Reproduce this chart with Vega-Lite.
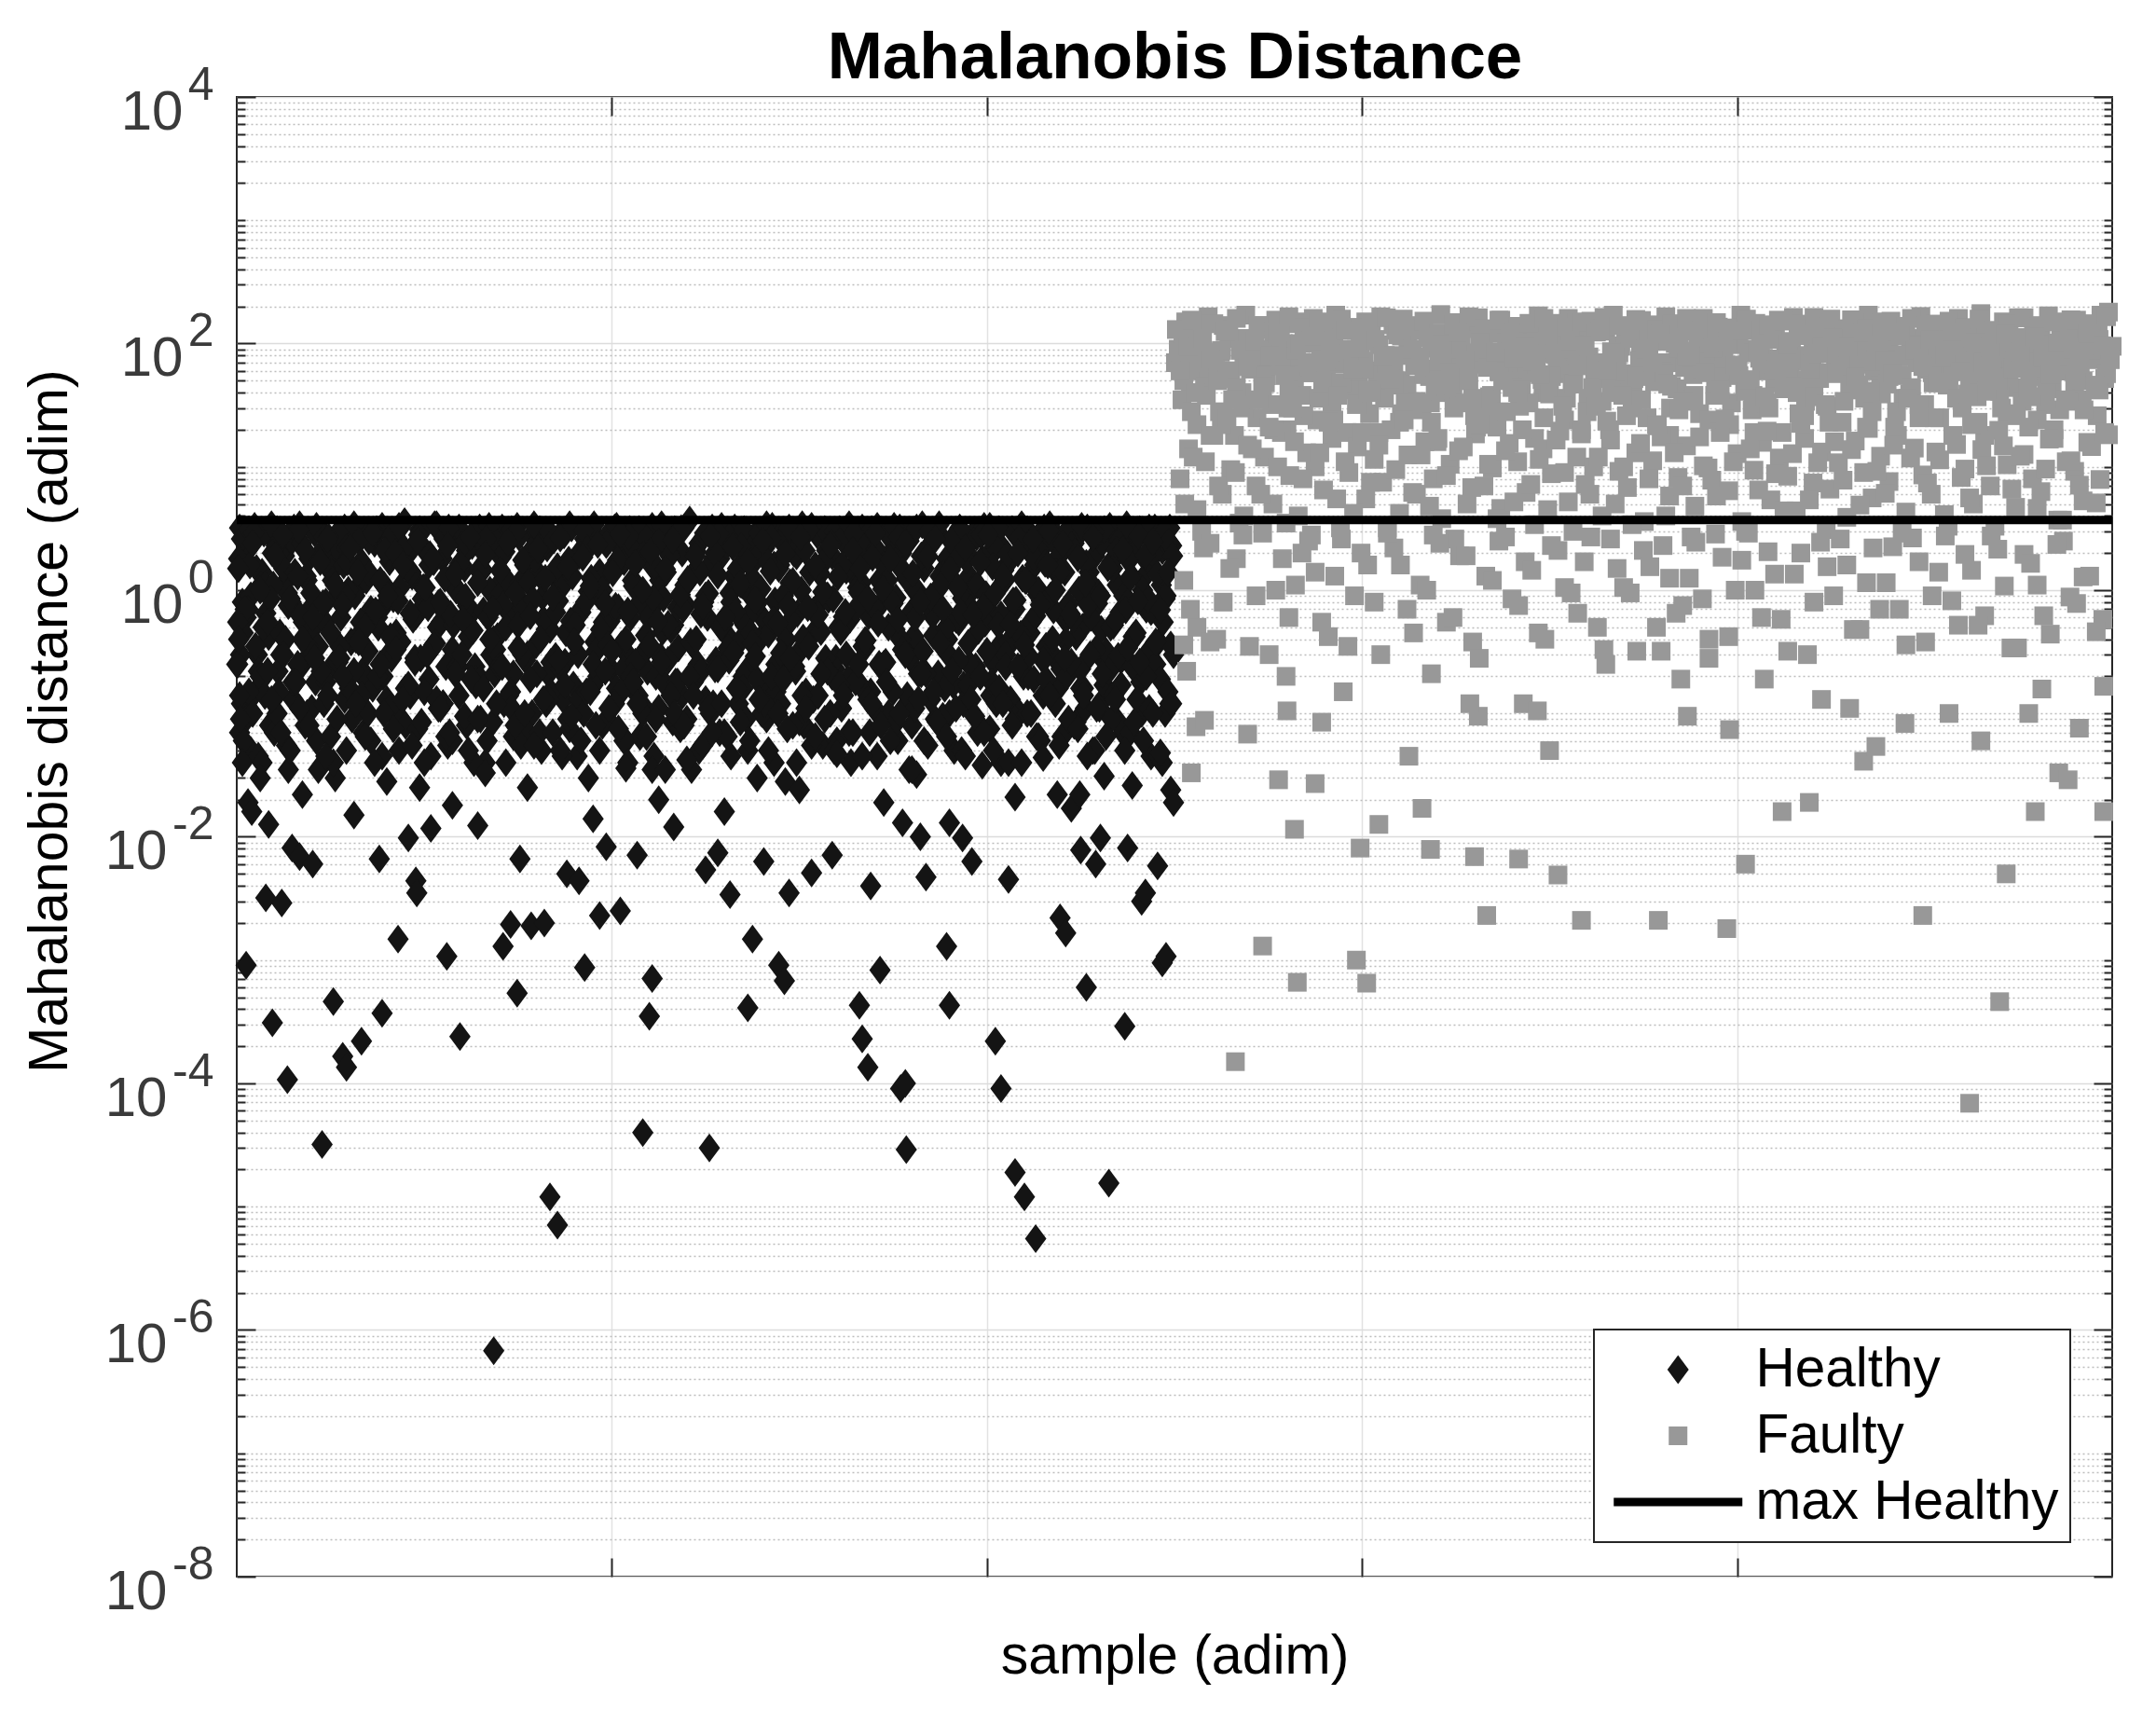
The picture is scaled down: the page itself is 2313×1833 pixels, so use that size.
{
"$schema": "https://vega.github.io/schema/vega-lite/v6.json",
"width": 2012,
"height": 1587,
"autosize": {"type": "none"},
"padding": {"left": 254, "top": 104, "right": 47, "bottom": 142},
"background": "white",
"config": {
  "font": "Liberation Sans",
  "view": {"stroke": "#262626", "strokeWidth": 2},
  "axis": {"labelFont": "Liberation Sans", "titleFont": "Liberation Sans"},
  "legend": {"strokeWidth": 2}
},
"datasets": {
"h": [
{"s":3,"d":3.2},{"s":11,"d":2.1},{"s":19,"d":3.3},{"s":27,"d":1.4},{"s":35,"d":2.8},{"s":43,"d":3.1},{"s":51,"d":1.9},{"s":59,"d":2.5},{"s":67,"d":3.4},{"s":75,"d":1.2},
{"s":83,"d":2.9},{"s":91,"d":3.0},{"s":99,"d":1.6},{"s":107,"d":2.2},{"s":115,"d":3.2},{"s":123,"d":2.7},{"s":131,"d":1.1},{"s":139,"d":3.0},{"s":147,"d":2.4},{"s":155,"d":3.3},
{"s":163,"d":1.7},{"s":171,"d":2.6},{"s":179,"d":3.6},{"s":187,"d":1.3},{"s":195,"d":3.1},{"s":203,"d":2.0},{"s":211,"d":3.4},{"s":219,"d":1.8},{"s":227,"d":2.7},{"s":235,"d":3.0},
{"s":243,"d":1.5},{"s":251,"d":2.3},{"s":259,"d":3.2},{"s":267,"d":2.9},{"s":275,"d":1.0},{"s":283,"d":3.2},{"s":291,"d":2.5},{"s":299,"d":3.3},{"s":307,"d":1.6},{"s":315,"d":2.8},
{"s":323,"d":3.1},{"s":331,"d":2.2},{"s":339,"d":1.3},{"s":347,"d":3.0},{"s":355,"d":3.4},{"s":363,"d":1.9},{"s":371,"d":2.6},{"s":379,"d":3.0},{"s":387,"d":1.4},{"s":395,"d":2.4},
{"s":403,"d":3.2},{"s":411,"d":2.1},{"s":419,"d":3.1},{"s":427,"d":1.7},{"s":435,"d":2.8},{"s":443,"d":3.3},{"s":451,"d":1.2},{"s":459,"d":2.7},{"s":467,"d":3.1},{"s":475,"d":2.0},
{"s":483,"d":3.7},{"s":491,"d":1.5},{"s":499,"d":2.9},{"s":507,"d":3.2},{"s":515,"d":1.8},{"s":523,"d":2.3},{"s":531,"d":3.2},{"s":539,"d":1.1},{"s":547,"d":2.6},{"s":555,"d":3.0},
{"s":563,"d":2.2},{"s":571,"d":3.3},{"s":579,"d":1.6},{"s":587,"d":3.0},{"s":595,"d":2.5},{"s":603,"d":3.4},{"s":611,"d":1.4},{"s":619,"d":2.8},{"s":627,"d":3.1},{"s":635,"d":1.9},
{"s":643,"d":3.1},{"s":651,"d":2.4},{"s":659,"d":1.3},{"s":667,"d":3.2},{"s":675,"d":2.7},{"s":683,"d":3.3},{"s":691,"d":1.7},{"s":699,"d":2.1},{"s":707,"d":3.2},{"s":715,"d":2.9},
{"s":723,"d":1.0},{"s":731,"d":3.4},{"s":739,"d":2.3},{"s":747,"d":3.0},{"s":755,"d":1.5},{"s":763,"d":2.6},{"s":771,"d":3.2},{"s":779,"d":2.0},{"s":787,"d":3.0},{"s":795,"d":1.8},
{"s":803,"d":3.3},{"s":811,"d":2.5},{"s":819,"d":1.2},{"s":827,"d":3.1},{"s":835,"d":2.8},{"s":843,"d":3.1},{"s":851,"d":1.6},{"s":859,"d":2.2},{"s":867,"d":3.4},{"s":875,"d":2.7},
{"s":883,"d":1.4},{"s":891,"d":3.0},{"s":899,"d":2.9},{"s":907,"d":3.2},{"s":915,"d":1.9},{"s":923,"d":2.4},{"s":931,"d":3.3},{"s":939,"d":1.1},{"s":947,"d":3.0},{"s":955,"d":2.6},
{"s":963,"d":3.1},{"s":971,"d":1.7},{"s":979,"d":3.2},{"s":987,"d":2.1},{"s":995,"d":3.2},
{"s":5,"d":2.6},{"s":13,"d":3.1},{"s":21,"d":1.5},{"s":29,"d":2.9},{"s":37,"d":3.4},{"s":45,"d":2.0},{"s":53,"d":1.2},{"s":61,"d":3.2},{"s":69,"d":2.4},{"s":77,"d":1.8},
{"s":85,"d":3.3},{"s":93,"d":2.7},{"s":101,"d":1.4},{"s":109,"d":3.0},{"s":117,"d":2.2},{"s":125,"d":3.4},{"s":133,"d":1.7},{"s":141,"d":2.5},{"s":149,"d":3.1},{"s":157,"d":1.1},
{"s":165,"d":2.8},{"s":173,"d":3.3},{"s":181,"d":1.9},{"s":189,"d":2.3},{"s":197,"d":3.0},{"s":205,"d":1.6},{"s":213,"d":3.4},{"s":221,"d":2.6},{"s":229,"d":1.3},{"s":237,"d":3.2},
{"s":245,"d":2.1},{"s":253,"d":2.9},{"s":261,"d":1.5},{"s":269,"d":3.3},{"s":277,"d":2.4},{"s":285,"d":1.0},{"s":293,"d":3.1},{"s":301,"d":2.7},{"s":309,"d":1.8},{"s":317,"d":3.4},
{"s":325,"d":2.2},{"s":333,"d":3.0},{"s":341,"d":1.4},{"s":349,"d":2.8},{"s":357,"d":3.2},{"s":365,"d":1.9},{"s":373,"d":2.5},{"s":381,"d":3.4},{"s":389,"d":1.2},{"s":397,"d":2.9},
{"s":405,"d":3.3},{"s":413,"d":1.7},{"s":421,"d":2.3},{"s":429,"d":3.1},{"s":437,"d":2.6},{"s":445,"d":1.5},{"s":453,"d":3.4},{"s":461,"d":2.0},{"s":469,"d":2.8},{"s":477,"d":3.2},
{"s":485,"d":1.3},{"s":493,"d":2.4},{"s":501,"d":3.0},{"s":509,"d":1.8},{"s":517,"d":3.3},{"s":525,"d":2.7},{"s":533,"d":1.1},{"s":541,"d":3.1},{"s":549,"d":2.2},{"s":557,"d":2.9},
{"s":565,"d":3.4},{"s":573,"d":1.6},{"s":581,"d":2.5},{"s":589,"d":3.2},{"s":597,"d":1.9},{"s":605,"d":2.8},{"s":613,"d":3.3},{"s":621,"d":1.4},{"s":629,"d":2.1},{"s":637,"d":3.0},
{"s":645,"d":2.6},{"s":653,"d":3.4},{"s":661,"d":1.7},{"s":669,"d":2.3},{"s":677,"d":3.1},{"s":685,"d":1.2},{"s":693,"d":2.9},{"s":701,"d":3.3},{"s":709,"d":2.0},{"s":717,"d":2.5},
{"s":725,"d":3.2},{"s":733,"d":1.5},{"s":741,"d":2.8},{"s":749,"d":3.4},{"s":757,"d":1.8},{"s":765,"d":2.4},{"s":773,"d":3.0},{"s":781,"d":1.3},{"s":789,"d":2.7},{"s":797,"d":3.3},
{"s":805,"d":2.1},{"s":813,"d":3.1},{"s":821,"d":1.6},{"s":829,"d":2.9},{"s":837,"d":3.4},{"s":845,"d":2.2},{"s":853,"d":1.0},{"s":861,"d":3.2},{"s":869,"d":2.6},{"s":877,"d":1.9},
{"s":885,"d":3.0},{"s":893,"d":2.4},{"s":901,"d":3.3},{"s":909,"d":1.4},{"s":917,"d":2.8},{"s":925,"d":3.1},{"s":933,"d":1.7},{"s":941,"d":2.5},{"s":949,"d":3.4},{"s":957,"d":2.0},
{"s":965,"d":1.2},{"s":973,"d":3.2},{"s":981,"d":2.7},{"s":989,"d":3.0},{"s":997,"d":2.3},
{"s":2,"d":1.8},{"s":10,"d":0.6},{"s":18,"d":2.9},{"s":26,"d":1.1},{"s":34,"d":0.42},{"s":42,"d":2.3},{"s":50,"d":1.5},{"s":58,"d":0.8},{"s":66,"d":3.1},{"s":74,"d":1.3},
{"s":82,"d":0.5},{"s":90,"d":2.0},{"s":98,"d":2.7},{"s":106,"d":0.9},{"s":114,"d":1.6},{"s":122,"d":0.38},{"s":130,"d":2.5},{"s":138,"d":1.2},{"s":146,"d":3.0},{"s":154,"d":0.7},
{"s":162,"d":1.9},{"s":170,"d":0.45},{"s":178,"d":2.2},{"s":186,"d":1.4},{"s":194,"d":2.8},{"s":202,"d":0.85},{"s":210,"d":1.7},{"s":218,"d":0.55},{"s":226,"d":3.2},{"s":234,"d":1.0},
{"s":242,"d":2.4},{"s":250,"d":0.65},{"s":258,"d":1.45},{"s":266,"d":2.6},{"s":274,"d":0.4},{"s":282,"d":1.85},{"s":290,"d":1.15},{"s":298,"d":2.95},{"s":306,"d":0.75},{"s":314,"d":2.1},
{"s":322,"d":1.35},{"s":330,"d":0.48},{"s":338,"d":2.55},{"s":346,"d":1.05},{"s":354,"d":1.75},{"s":362,"d":0.6},{"s":370,"d":3.05},{"s":378,"d":1.25},{"s":386,"d":0.9},{"s":394,"d":2.35},
{"s":402,"d":1.55},{"s":410,"d":0.36},{"s":418,"d":2.75},{"s":426,"d":1.1},{"s":434,"d":1.95},{"s":442,"d":0.7},{"s":450,"d":2.45},{"s":458,"d":1.4},{"s":466,"d":0.52},{"s":474,"d":3.15},
{"s":482,"d":1.2},{"s":490,"d":2.05},{"s":498,"d":0.8},{"s":506,"d":1.65},{"s":514,"d":2.85},{"s":522,"d":0.44},{"s":530,"d":1.3},{"s":538,"d":2.25},{"s":546,"d":0.95},{"s":554,"d":1.8},
{"s":562,"d":0.58},{"s":570,"d":2.65},{"s":578,"d":1.5},{"s":586,"d":0.4},{"s":594,"d":2.0},{"s":602,"d":1.0},{"s":610,"d":3.1},{"s":618,"d":0.72},{"s":626,"d":1.7},{"s":634,"d":2.4},
{"s":642,"d":0.5},{"s":650,"d":1.45},{"s":658,"d":2.9},{"s":666,"d":1.15},{"s":674,"d":0.62},{"s":682,"d":2.15},{"s":690,"d":1.6},{"s":698,"d":0.88},{"s":706,"d":2.7},{"s":714,"d":1.25},
{"s":722,"d":0.42},{"s":730,"d":1.9},{"s":738,"d":3.0},{"s":746,"d":0.78},{"s":754,"d":1.35},{"s":762,"d":2.5},{"s":770,"d":0.55},{"s":778,"d":1.75},{"s":786,"d":1.05},{"s":794,"d":2.8},
{"s":802,"d":0.68},{"s":810,"d":2.2},{"s":818,"d":1.45},{"s":826,"d":0.38},{"s":834,"d":2.6},{"s":842,"d":1.2},{"s":850,"d":1.85},{"s":858,"d":0.82},{"s":866,"d":3.05},{"s":874,"d":1.4},
{"s":882,"d":0.6},{"s":890,"d":2.3},{"s":898,"d":1.0},{"s":906,"d":1.65},{"s":914,"d":2.95},{"s":922,"d":0.48},{"s":930,"d":1.55},{"s":938,"d":2.1},{"s":946,"d":0.9},{"s":954,"d":1.3},
{"s":962,"d":2.75},{"s":970,"d":0.7},{"s":978,"d":1.95},{"s":986,"d":1.1},{"s":994,"d":2.45},
{"s":6,"d":0.8},{"s":14,"d":1.6},{"s":22,"d":0.3},{"s":30,"d":1.1},{"s":38,"d":2.0},{"s":46,"d":0.45},{"s":54,"d":0.95},{"s":62,"d":1.4},{"s":70,"d":0.25},{"s":78,"d":0.7},
{"s":86,"d":1.85},{"s":94,"d":0.55},{"s":102,"d":1.2},{"s":110,"d":0.35},{"s":118,"d":1.7},{"s":126,"d":0.9},{"s":134,"d":0.22},{"s":142,"d":1.35},{"s":150,"d":0.6},{"s":158,"d":2.1},
{"s":166,"d":0.4},{"s":174,"d":1.05},{"s":182,"d":1.5},{"s":190,"d":0.28},{"s":198,"d":0.85},{"s":206,"d":1.95},{"s":214,"d":0.5},{"s":222,"d":1.25},{"s":230,"d":0.33},{"s":238,"d":1.65},
{"s":246,"d":0.75},{"s":254,"d":0.24},{"s":262,"d":1.45},{"s":270,"d":1.0},{"s":278,"d":0.42},{"s":286,"d":2.05},{"s":294,"d":0.62},{"s":302,"d":1.15},{"s":310,"d":0.3},{"s":318,"d":1.8},
{"s":326,"d":0.88},{"s":334,"d":0.48},{"s":342,"d":1.55},{"s":350,"d":0.26},{"s":358,"d":1.3},{"s":366,"d":0.68},{"s":374,"d":2.15},{"s":382,"d":0.38},{"s":390,"d":1.0},{"s":398,"d":0.56},
{"s":406,"d":1.75},{"s":414,"d":0.32},{"s":422,"d":1.2},{"s":430,"d":0.8},{"s":438,"d":0.22},{"s":446,"d":1.6},{"s":454,"d":0.46},{"s":462,"d":1.9},{"s":470,"d":0.72},{"s":478,"d":1.1},
{"s":486,"d":0.36},{"s":494,"d":1.4},{"s":502,"d":0.6},{"s":510,"d":2.0},{"s":518,"d":0.27},{"s":526,"d":0.95},{"s":534,"d":1.5},{"s":542,"d":0.52},{"s":550,"d":1.25},{"s":558,"d":0.4},
{"s":566,"d":1.7},{"s":574,"d":0.82},{"s":582,"d":0.3},{"s":590,"d":1.15},{"s":598,"d":0.65},{"s":606,"d":2.1},{"s":614,"d":0.44},{"s":622,"d":1.35},{"s":630,"d":0.9},{"s":638,"d":0.23},
{"s":646,"d":1.6},{"s":654,"d":0.58},{"s":662,"d":1.05},{"s":670,"d":0.34},{"s":678,"d":1.85},{"s":686,"d":0.76},{"s":694,"d":1.2},{"s":702,"d":0.48},{"s":710,"d":1.45},{"s":718,"d":0.28},
{"s":726,"d":0.98},{"s":734,"d":2.0},{"s":742,"d":0.62},{"s":750,"d":1.3},{"s":758,"d":0.4},{"s":766,"d":1.7},{"s":774,"d":0.86},{"s":782,"d":0.25},{"s":790,"d":1.1},{"s":798,"d":0.54},
{"s":806,"d":1.55},{"s":814,"d":0.36},{"s":822,"d":1.95},{"s":830,"d":0.7},{"s":838,"d":1.25},{"s":846,"d":0.45},{"s":854,"d":0.92},{"s":862,"d":1.65},{"s":870,"d":0.3},{"s":878,"d":1.4},
{"s":886,"d":0.6},{"s":894,"d":2.05},{"s":902,"d":0.5},{"s":910,"d":1.15},{"s":918,"d":0.78},{"s":926,"d":0.26},{"s":934,"d":1.5},{"s":942,"d":0.66},{"s":950,"d":1.8},{"s":958,"d":0.42},
{"s":966,"d":1.0},{"s":974,"d":0.33},{"s":982,"d":1.35},{"s":990,"d":0.85},{"s":998,"d":1.9},
{"s":7,"d":0.45},{"s":15,"d":0.9},{"s":23,"d":0.22},{"s":31,"d":0.65},{"s":39,"d":1.1},{"s":47,"d":0.3},{"s":55,"d":0.75},{"s":63,"d":0.18},{"s":71,"d":0.55},{"s":79,"d":0.95},
{"s":87,"d":0.35},{"s":95,"d":0.8},{"s":103,"d":0.25},{"s":111,"d":0.6},{"s":119,"d":1.0},{"s":127,"d":0.4},{"s":135,"d":0.2},{"s":143,"d":0.7},{"s":151,"d":0.5},{"s":159,"d":0.28},
{"s":167,"d":0.85},{"s":175,"d":0.38},{"s":183,"d":0.16},{"s":191,"d":0.62},{"s":199,"d":1.05},{"s":207,"d":0.33},{"s":215,"d":0.78},{"s":223,"d":0.24},{"s":231,"d":0.52},{"s":239,"d":0.92},
{"s":247,"d":0.42},{"s":255,"d":0.19},{"s":263,"d":0.68},{"s":271,"d":0.3},{"s":279,"d":0.88},{"s":287,"d":0.5},{"s":295,"d":0.21},{"s":303,"d":0.74},{"s":311,"d":1.15},{"s":319,"d":0.36},
{"s":327,"d":0.58},{"s":335,"d":0.26},{"s":343,"d":0.82},{"s":351,"d":0.45},{"s":359,"d":0.17},{"s":367,"d":0.66},{"s":375,"d":0.98},{"s":383,"d":0.32},{"s":391,"d":0.55},{"s":399,"d":0.23},
{"s":407,"d":0.72},{"s":415,"d":0.4},{"s":423,"d":1.08},{"s":431,"d":0.29},{"s":439,"d":0.6},{"s":447,"d":0.2},{"s":455,"d":0.86},{"s":463,"d":0.48},{"s":471,"d":0.34},{"s":479,"d":0.76},
{"s":487,"d":0.18},{"s":495,"d":0.64},{"s":503,"d":0.94},{"s":511,"d":0.27},{"s":519,"d":0.53},{"s":527,"d":0.8},{"s":535,"d":0.37},{"s":543,"d":0.22},{"s":551,"d":0.7},{"s":559,"d":1.02},
{"s":567,"d":0.44},{"s":575,"d":0.25},{"s":583,"d":0.9},{"s":591,"d":0.57},{"s":599,"d":0.31},{"s":607,"d":0.15},{"s":615,"d":0.68},{"s":623,"d":0.46},{"s":631,"d":0.84},{"s":639,"d":0.28},
{"s":647,"d":0.61},{"s":655,"d":0.19},{"s":663,"d":0.96},{"s":671,"d":0.39},{"s":679,"d":0.73},{"s":687,"d":0.24},{"s":695,"d":0.5},{"s":703,"d":0.87},{"s":711,"d":0.33},{"s":719,"d":0.66},
{"s":727,"d":0.21},{"s":735,"d":0.79},{"s":743,"d":0.43},{"s":751,"d":1.1},{"s":759,"d":0.3},{"s":767,"d":0.58},{"s":775,"d":0.17},{"s":783,"d":0.71},{"s":791,"d":0.47},{"s":799,"d":0.92},
{"s":807,"d":0.26},{"s":815,"d":0.63},{"s":823,"d":0.38},{"s":831,"d":0.83},{"s":839,"d":0.2},{"s":847,"d":0.55},{"s":855,"d":1.0},{"s":863,"d":0.35},{"s":871,"d":0.69},{"s":879,"d":0.23},
{"s":887,"d":0.77},{"s":895,"d":0.42},{"s":903,"d":0.16},{"s":911,"d":0.6},{"s":919,"d":0.95},{"s":927,"d":0.32},{"s":935,"d":0.52},{"s":943,"d":0.27},{"s":951,"d":0.81},{"s":959,"d":0.45},
{"s":967,"d":0.2},{"s":975,"d":0.67},{"s":983,"d":0.38},{"s":991,"d":0.9},{"s":999,"d":0.3},
{"s":4,"d":0.3},{"s":12,"d":0.7},{"s":20,"d":0.15},{"s":28,"d":0.5},{"s":36,"d":0.85},{"s":44,"d":0.22},{"s":52,"d":0.4},{"s":60,"d":0.13},{"s":68,"d":0.62},{"s":76,"d":0.35},
{"s":84,"d":0.18},{"s":92,"d":0.78},{"s":100,"d":0.45},{"s":108,"d":0.26},{"s":116,"d":0.9},{"s":124,"d":0.14},{"s":132,"d":0.55},{"s":140,"d":0.32},{"s":148,"d":0.68},{"s":156,"d":0.2},
{"s":164,"d":0.42},{"s":172,"d":0.82},{"s":180,"d":0.16},{"s":188,"d":0.58},{"s":196,"d":0.28},{"s":204,"d":0.72},{"s":212,"d":0.37},{"s":220,"d":0.12},{"s":228,"d":0.64},{"s":236,"d":0.24},
{"s":244,"d":0.88},{"s":252,"d":0.47},{"s":260,"d":0.19},{"s":268,"d":0.6},{"s":276,"d":0.33},{"s":284,"d":0.76},{"s":292,"d":0.15},{"s":300,"d":0.52},{"s":308,"d":0.27},{"s":316,"d":0.84},
{"s":324,"d":0.4},{"s":332,"d":0.21},{"s":340,"d":0.66},{"s":348,"d":0.13},{"s":356,"d":0.56},{"s":364,"d":0.3},{"s":372,"d":0.8},{"s":380,"d":0.17},{"s":388,"d":0.48},{"s":396,"d":0.36},
{"s":404,"d":0.74},{"s":412,"d":0.23},{"s":420,"d":0.6},{"s":428,"d":0.14},{"s":436,"d":0.43},{"s":444,"d":0.86},{"s":452,"d":0.29},{"s":460,"d":0.53},{"s":468,"d":0.18},{"s":476,"d":0.7},
{"s":484,"d":0.38},{"s":492,"d":0.25},{"s":500,"d":0.9},{"s":508,"d":0.12},{"s":516,"d":0.5},{"s":524,"d":0.34},{"s":532,"d":0.67},{"s":540,"d":0.2},{"s":548,"d":0.45},{"s":556,"d":0.8},
{"s":564,"d":0.16},{"s":572,"d":0.57},{"s":580,"d":0.31},{"s":588,"d":0.75},{"s":596,"d":0.22},{"s":604,"d":0.41},{"s":612,"d":0.13},{"s":620,"d":0.63},{"s":628,"d":0.28},{"s":636,"d":0.85},
{"s":644,"d":0.46},{"s":652,"d":0.19},{"s":660,"d":0.7},{"s":668,"d":0.35},{"s":676,"d":0.15},{"s":684,"d":0.54},{"s":692,"d":0.26},{"s":700,"d":0.78},{"s":708,"d":0.4},{"s":716,"d":0.12},
{"s":724,"d":0.6},{"s":732,"d":0.32},{"s":740,"d":0.88},{"s":748,"d":0.21},{"s":756,"d":0.49},{"s":764,"d":0.17},{"s":772,"d":0.66},{"s":780,"d":0.37},{"s":788,"d":0.24},{"s":796,"d":0.73},
{"s":804,"d":0.14},{"s":812,"d":0.52},{"s":820,"d":0.3},{"s":828,"d":0.82},{"s":836,"d":0.44},{"s":844,"d":0.2},{"s":852,"d":0.62},{"s":860,"d":0.27},{"s":868,"d":0.9},{"s":876,"d":0.16},
{"s":884,"d":0.39},{"s":892,"d":0.58},{"s":900,"d":0.23},{"s":908,"d":0.76},{"s":916,"d":0.33},{"s":924,"d":0.13},{"s":932,"d":0.5},{"s":940,"d":0.29},{"s":948,"d":0.69},{"s":956,"d":0.42},
{"s":964,"d":0.18},{"s":972,"d":0.84},{"s":980,"d":0.25},{"s":988,"d":0.55},{"s":996,"d":0.36},
{"s":1,"d":1.5},{"s":9,"d":0.7},{"s":17,"d":2.4},{"s":25,"d":1.0},{"s":33,"d":0.55},{"s":41,"d":1.9},{"s":49,"d":2.8},{"s":57,"d":0.85},{"s":65,"d":1.3},{"s":73,"d":2.1},
{"s":81,"d":0.6},{"s":89,"d":1.7},{"s":97,"d":2.6},{"s":105,"d":1.1},{"s":113,"d":0.75},{"s":121,"d":2.2},{"s":129,"d":1.4},{"s":137,"d":0.5},{"s":145,"d":2.9},{"s":153,"d":1.2},
{"s":161,"d":0.9},{"s":169,"d":2.0},{"s":177,"d":1.6},{"s":185,"d":0.65},{"s":193,"d":2.5},{"s":201,"d":1.05},{"s":209,"d":1.8},{"s":217,"d":0.8},{"s":225,"d":2.3},{"s":233,"d":1.35},
{"s":241,"d":0.58},{"s":249,"d":2.7},{"s":257,"d":1.15},{"s":265,"d":1.95},{"s":273,"d":0.7},{"s":281,"d":1.45},{"s":289,"d":2.45},{"s":297,"d":0.95},{"s":305,"d":1.75},{"s":313,"d":0.62},
{"s":321,"d":2.15},{"s":329,"d":1.25},{"s":337,"d":0.88},{"s":345,"d":2.65},{"s":353,"d":1.55},{"s":361,"d":0.52},{"s":369,"d":1.85},{"s":377,"d":1.08},{"s":385,"d":2.35},{"s":393,"d":0.78},
{"s":401,"d":1.38},{"s":409,"d":2.85},{"s":417,"d":0.68},{"s":425,"d":1.65},{"s":433,"d":1.0},{"s":441,"d":2.05},{"s":449,"d":0.56},{"s":457,"d":1.48},{"s":465,"d":2.55},{"s":473,"d":0.92},
{"s":481,"d":1.22},{"s":489,"d":1.9},{"s":497,"d":0.74},{"s":505,"d":2.75},{"s":513,"d":1.32},{"s":521,"d":0.6},{"s":529,"d":2.25},{"s":537,"d":1.12},{"s":545,"d":1.7},{"s":553,"d":0.83},
{"s":561,"d":2.5},{"s":569,"d":1.42},{"s":577,"d":0.54},{"s":585,"d":1.98},{"s":593,"d":1.18},{"s":601,"d":2.7},{"s":609,"d":0.72},{"s":617,"d":1.58},{"s":625,"d":0.97},{"s":633,"d":2.3},
{"s":641,"d":1.28},{"s":649,"d":0.66},{"s":657,"d":2.1},{"s":665,"d":1.5},{"s":673,"d":0.86},{"s":681,"d":2.9},{"s":689,"d":1.02},{"s":697,"d":1.78},{"s":705,"d":0.58},{"s":713,"d":2.4},
{"s":721,"d":1.36},{"s":729,"d":0.8},{"s":737,"d":1.88},{"s":745,"d":2.6},{"s":753,"d":0.7},{"s":761,"d":1.46},{"s":769,"d":1.06},{"s":777,"d":2.2},{"s":785,"d":0.63},{"s":793,"d":1.68},
{"s":801,"d":2.8},{"s":809,"d":0.94},{"s":817,"d":1.3},{"s":825,"d":0.53},{"s":833,"d":2.0},{"s":841,"d":1.2},{"s":849,"d":2.58},{"s":857,"d":0.76},{"s":865,"d":1.6},{"s":873,"d":1.0},
{"s":881,"d":2.38},{"s":889,"d":0.64},{"s":897,"d":1.82},{"s":905,"d":1.14},{"s":913,"d":2.68},{"s":921,"d":0.9},{"s":929,"d":1.52},{"s":937,"d":0.57},{"s":945,"d":2.12},{"s":953,"d":1.26},
{"s":961,"d":0.82},{"s":969,"d":1.92},{"s":977,"d":2.48},{"s":985,"d":0.69},{"s":993,"d":1.4},
{"s":5,"d":0.12},{"s":15,"d":0.05},{"s":25,"d":0.2},{"s":35,"d":0.08},{"s":45,"d":0.15},{"s":55,"d":0.035},{"s":65,"d":0.25},{"s":75,"d":0.1},{"s":85,"d":0.06},{"s":95,"d":0.18},
{"s":105,"d":0.03},{"s":115,"d":0.13},{"s":125,"d":0.22},{"s":135,"d":0.07},{"s":145,"d":0.16},{"s":155,"d":0.045},{"s":165,"d":0.28},{"s":175,"d":0.09},{"s":185,"d":0.14},{"s":195,"d":0.025},
{"s":205,"d":0.19},{"s":215,"d":0.11},{"s":225,"d":0.055},{"s":235,"d":0.24},{"s":245,"d":0.08},{"s":255,"d":0.17},{"s":265,"d":0.04},{"s":275,"d":0.21},{"s":285,"d":0.12},{"s":295,"d":0.065},
{"s":305,"d":0.3},{"s":315,"d":0.1},{"s":325,"d":0.05},{"s":335,"d":0.15},{"s":345,"d":0.23},{"s":355,"d":0.075},{"s":365,"d":0.13},{"s":375,"d":0.03},{"s":385,"d":0.2},{"s":395,"d":0.09},
{"s":405,"d":0.16},{"s":415,"d":0.06},{"s":425,"d":0.26},{"s":435,"d":0.11},{"s":445,"d":0.045},{"s":455,"d":0.18},{"s":465,"d":0.085},{"s":475,"d":0.14},{"s":485,"d":0.035},{"s":495,"d":0.22},
{"s":505,"d":0.1},{"s":515,"d":0.07},{"s":525,"d":0.27},{"s":535,"d":0.12},{"s":545,"d":0.05},{"s":555,"d":0.19},{"s":565,"d":0.09},{"s":575,"d":0.15},{"s":585,"d":0.028},{"s":595,"d":0.24},
{"s":605,"d":0.08},{"s":615,"d":0.13},{"s":625,"d":0.055},{"s":635,"d":0.2},{"s":645,"d":0.11},{"s":655,"d":0.04},{"s":665,"d":0.17},{"s":675,"d":0.07},{"s":685,"d":0.25},{"s":695,"d":0.1},
{"s":705,"d":0.06},{"s":715,"d":0.14},{"s":725,"d":0.032},{"s":735,"d":0.21},{"s":745,"d":0.09},{"s":755,"d":0.16},{"s":765,"d":0.05},{"s":775,"d":0.12},{"s":785,"d":0.23},{"s":795,"d":0.075},
{"s":805,"d":0.18},{"s":815,"d":0.04},{"s":825,"d":0.13},{"s":835,"d":0.1},{"s":845,"d":0.29},{"s":855,"d":0.065},{"s":865,"d":0.15},{"s":875,"d":0.022},{"s":885,"d":0.2},{"s":895,"d":0.085},
{"s":905,"d":0.11},{"s":915,"d":0.05},{"s":925,"d":0.17},{"s":935,"d":0.14},{"s":945,"d":0.07},{"s":955,"d":0.24},{"s":965,"d":0.1},{"s":975,"d":0.045},{"s":985,"d":0.19},{"s":995,"d":0.12},
{"s":0,"d":0.25},{"s":10,"d":0.09},{"s":20,"d":0.35},{"s":30,"d":0.14},{"s":40,"d":0.07},{"s":50,"d":0.3},{"s":60,"d":0.18},{"s":70,"d":0.4},{"s":80,"d":0.11},{"s":90,"d":0.22},
{"s":100,"d":0.065},{"s":110,"d":0.28},{"s":120,"d":0.16},{"s":130,"d":0.38},{"s":140,"d":0.1},{"s":150,"d":0.2},{"s":160,"d":0.13},{"s":170,"d":0.33},{"s":180,"d":0.08},{"s":190,"d":0.26},
{"s":200,"d":0.15},{"s":210,"d":0.36},{"s":220,"d":0.12},{"s":230,"d":0.06},{"s":240,"d":0.3},{"s":250,"d":0.19},{"s":260,"d":0.09},{"s":270,"d":0.4},{"s":280,"d":0.24},{"s":290,"d":0.14},
{"s":300,"d":0.34},{"s":310,"d":0.07},{"s":320,"d":0.21},{"s":330,"d":0.12},{"s":340,"d":0.29},{"s":350,"d":0.17},{"s":360,"d":0.38},{"s":370,"d":0.1},{"s":380,"d":0.25},{"s":390,"d":0.08},
{"s":400,"d":0.32},{"s":410,"d":0.15},{"s":420,"d":0.2},{"s":430,"d":0.065},{"s":440,"d":0.36},{"s":450,"d":0.11},{"s":460,"d":0.27},{"s":470,"d":0.18},{"s":480,"d":0.09},{"s":490,"d":0.4},
{"s":500,"d":0.13},{"s":510,"d":0.23},{"s":520,"d":0.07},{"s":530,"d":0.31},{"s":540,"d":0.16},{"s":550,"d":0.37},{"s":560,"d":0.1},{"s":570,"d":0.2},{"s":580,"d":0.12},{"s":590,"d":0.28},
{"s":600,"d":0.085},{"s":610,"d":0.35},{"s":620,"d":0.14},{"s":630,"d":0.22},{"s":640,"d":0.06},{"s":650,"d":0.3},{"s":660,"d":0.18},{"s":670,"d":0.39},{"s":680,"d":0.11},{"s":690,"d":0.25},
{"s":700,"d":0.15},{"s":710,"d":0.33},{"s":720,"d":0.08},{"s":730,"d":0.21},{"s":740,"d":0.13},{"s":750,"d":0.37},{"s":760,"d":0.1},{"s":770,"d":0.27},{"s":780,"d":0.17},{"s":790,"d":0.07},
{"s":800,"d":0.32},{"s":810,"d":0.12},{"s":820,"d":0.24},{"s":830,"d":0.09},{"s":840,"d":0.36},{"s":850,"d":0.19},{"s":860,"d":0.14},{"s":870,"d":0.4},{"s":880,"d":0.065},{"s":890,"d":0.26},
{"s":900,"d":0.16},{"s":910,"d":0.3},{"s":920,"d":0.11},{"s":930,"d":0.22},{"s":940,"d":0.085},{"s":950,"d":0.34},{"s":960,"d":0.13},{"s":970,"d":0.2},{"s":980,"d":0.38},{"s":990,"d":0.1},
{"s":3,"d":0.07},{"s":13,"d":0.15},{"s":23,"d":0.045},{"s":33,"d":0.22},{"s":43,"d":0.1},{"s":53,"d":0.055},{"s":63,"d":0.18},{"s":73,"d":0.08},{"s":83,"d":0.28},{"s":93,"d":0.12},
{"s":103,"d":0.04},{"s":113,"d":0.2},{"s":123,"d":0.09},{"s":133,"d":0.14},{"s":143,"d":0.06},{"s":153,"d":0.25},{"s":163,"d":0.11},{"s":173,"d":0.05},{"s":183,"d":0.17},{"s":193,"d":0.075},
{"s":203,"d":0.3},{"s":213,"d":0.13},{"s":223,"d":0.065},{"s":233,"d":0.21},{"s":243,"d":0.095},{"s":253,"d":0.04},{"s":263,"d":0.16},{"s":273,"d":0.085},{"s":283,"d":0.24},{"s":293,"d":0.11},
{"s":303,"d":0.055},{"s":313,"d":0.19},{"s":323,"d":0.07},{"s":333,"d":0.13},{"s":343,"d":0.27},{"s":353,"d":0.09},{"s":363,"d":0.045},{"s":373,"d":0.15},{"s":383,"d":0.08},{"s":393,"d":0.22},
{"s":403,"d":0.12},{"s":413,"d":0.06},{"s":423,"d":0.18},{"s":433,"d":0.1},{"s":443,"d":0.035},{"s":453,"d":0.26},{"s":463,"d":0.14},{"s":473,"d":0.075},{"s":483,"d":0.2},{"s":493,"d":0.05},
{"s":503,"d":0.11},{"s":513,"d":0.23},{"s":523,"d":0.065},{"s":533,"d":0.16},{"s":543,"d":0.09},{"s":553,"d":0.29},{"s":563,"d":0.12},{"s":573,"d":0.04},{"s":583,"d":0.19},{"s":593,"d":0.08},
{"s":603,"d":0.14},{"s":613,"d":0.055},{"s":623,"d":0.21},{"s":633,"d":0.1},{"s":643,"d":0.17},{"s":653,"d":0.07},{"s":663,"d":0.25},{"s":673,"d":0.13},{"s":683,"d":0.045},{"s":693,"d":0.18},
{"s":703,"d":0.085},{"s":713,"d":0.3},{"s":723,"d":0.11},{"s":733,"d":0.06},{"s":743,"d":0.15},{"s":753,"d":0.095},{"s":763,"d":0.22},{"s":773,"d":0.05},{"s":783,"d":0.13},{"s":793,"d":0.2},
{"s":803,"d":0.075},{"s":813,"d":0.16},{"s":823,"d":0.04},{"s":833,"d":0.24},{"s":843,"d":0.1},{"s":853,"d":0.065},{"s":863,"d":0.19},{"s":873,"d":0.12},{"s":883,"d":0.28},{"s":893,"d":0.08},
{"s":903,"d":0.14},{"s":913,"d":0.05},{"s":923,"d":0.21},{"s":933,"d":0.09},{"s":943,"d":0.17},{"s":953,"d":0.07},{"s":963,"d":0.26},{"s":973,"d":0.11},{"s":983,"d":0.045},{"s":993,"d":0.15},
{"s":7,"d":0.06},{"s":17,"d":0.1},{"s":27,"d":0.04},{"s":37,"d":0.13},{"s":47,"d":0.07},{"s":57,"d":0.05},{"s":67,"d":0.11},{"s":77,"d":0.08},{"s":87,"d":0.035},{"s":97,"d":0.14},
{"s":107,"d":0.09},{"s":117,"d":0.05},{"s":127,"d":0.12},{"s":137,"d":0.065},{"s":147,"d":0.04},{"s":157,"d":0.1},{"s":167,"d":0.075},{"s":177,"d":0.13},{"s":187,"d":0.055},{"s":197,"d":0.085},
{"s":207,"d":0.045},{"s":217,"d":0.11},{"s":227,"d":0.07},{"s":237,"d":0.14},{"s":247,"d":0.05},{"s":257,"d":0.09},{"s":267,"d":0.06},{"s":277,"d":0.12},{"s":287,"d":0.04},{"s":297,"d":0.08},
{"s":307,"d":0.1},{"s":317,"d":0.055},{"s":327,"d":0.13},{"s":337,"d":0.07},{"s":347,"d":0.045},{"s":357,"d":0.095},{"s":367,"d":0.06},{"s":377,"d":0.15},{"s":387,"d":0.05},{"s":397,"d":0.11},
{"s":407,"d":0.075},{"s":417,"d":0.04},{"s":427,"d":0.12},{"s":437,"d":0.065},{"s":447,"d":0.09},{"s":457,"d":0.035},{"s":467,"d":0.1},{"s":477,"d":0.08},{"s":487,"d":0.14},{"s":497,"d":0.055},
{"s":507,"d":0.07},{"s":517,"d":0.12},{"s":527,"d":0.045},{"s":537,"d":0.085},{"s":547,"d":0.06},{"s":557,"d":0.13},{"s":567,"d":0.05},{"s":577,"d":0.1},{"s":587,"d":0.075},{"s":597,"d":0.04},
{"s":607,"d":0.11},{"s":617,"d":0.065},{"s":627,"d":0.09},{"s":637,"d":0.05},{"s":647,"d":0.14},{"s":657,"d":0.07},{"s":667,"d":0.045},{"s":677,"d":0.12},{"s":687,"d":0.08},{"s":697,"d":0.06},
{"s":707,"d":0.1},{"s":717,"d":0.035},{"s":727,"d":0.13},{"s":737,"d":0.055},{"s":747,"d":0.085},{"s":757,"d":0.065},{"s":767,"d":0.11},{"s":777,"d":0.045},{"s":787,"d":0.095},{"s":797,"d":0.07},
{"s":807,"d":0.05},{"s":817,"d":0.12},{"s":827,"d":0.08},{"s":837,"d":0.04},{"s":847,"d":0.1},{"s":857,"d":0.06},{"s":867,"d":0.14},{"s":877,"d":0.055},{"s":887,"d":0.09},{"s":897,"d":0.075},
{"s":907,"d":0.045},{"s":917,"d":0.11},{"s":927,"d":0.065},{"s":937,"d":0.13},{"s":947,"d":0.05},{"s":957,"d":0.085},{"s":967,"d":0.06},{"s":977,"d":0.1},{"s":987,"d":0.04},{"s":997,"d":0.12},
{"s":25,"d":0.03},{"s":70,"d":0.022},{"s":95,"d":0.045},{"s":125,"d":0.015},{"s":160,"d":0.028},{"s":200,"d":0.04},{"s":230,"d":0.018},{"s":265,"d":0.033},{"s":310,"d":0.025},{"s":345,"d":0.05},
{"s":380,"d":0.014},{"s":415,"d":0.036},{"s":450,"d":0.02},{"s":480,"d":0.042},{"s":520,"d":0.016},{"s":555,"d":0.03},{"s":600,"d":0.024},{"s":640,"d":0.047},{"s":690,"d":0.019},{"s":720,"d":0.035},
{"s":760,"d":0.013},{"s":795,"d":0.038},{"s":830,"d":0.021},{"s":860,"d":0.044},{"s":890,"d":0.017},{"s":925,"d":0.031},{"s":955,"d":0.026},{"s":985,"d":0.048},
{"s":1,"d":0.55},{"s":2,"d":1.5},{"s":1,"d":0.25},{"s":3,"d":0.14},{"s":4,"d":0.09},{"s":2,"d":0.4},
{"s":6,"d":0.04},{"s":12,"d":0.019},{"s":16,"d":0.016},{"s":10,"d":0.00091},{"s":34,"d":0.0126},{"s":31,"d":0.0032},{"s":48,"d":0.0029},{"s":38,"d":0.00031},{"s":54,"d":0.000107},{"s":59,"d":0.0081},
{"s":67,"d":0.0069},{"s":81,"d":0.006},{"s":91,"d":0.000032},{"s":103,"d":0.00046},{"s":113,"d":0.000166},{"s":117,"d":0.000135},{"s":133,"d":0.00022},{"s":155,"d":0.00037},{"s":152,"d":0.0066},{"s":172,"d":0.00148},
{"s":183,"d":0.0098},{"s":191,"d":0.0044},{"s":192,"d":0.0035},{"s":207,"d":0.0117},{"s":224,"d":0.00107},{"s":238,"d":0.00024},{"s":257,"d":0.0123},{"s":274,"d":0.00000068},{"s":284,"d":0.00129},{"s":292,"d":0.00195},
{"s":299,"d":0.00054},{"s":302,"d":0.0066},{"s":314,"d":0.0019},{"s":328,"d":0.002},{"s":334,"d":0.000012},{"s":342,"d":0.0000071},{"s":352,"d":0.005},{"s":365,"d":0.0044},{"s":371,"d":0.00087},{"s":387,"d":0.0023},
{"s":394,"d":0.0083},{"s":409,"d":0.0025},{"s":427,"d":0.0071},{"s":433,"d":0.00004},{"s":443,"d":0.00071},{"s":440,"d":0.00035},{"s":466,"d":0.012},{"s":500,"d":0.0054},{"s":504,"d":0.00003},{"s":513,"d":0.0074},
{"s":526,"d":0.0034},{"s":545,"d":0.00041},{"s":550,"d":0.00148},{"s":562,"d":0.0063},{"s":578,"d":0.00091},{"s":584,"d":0.00068},{"s":589,"d":0.0035},{"s":613,"d":0.0051},{"s":635,"d":0.0071},{"s":664,"d":0.00043},
{"s":667,"d":0.00023},{"s":673,"d":0.000135},{"s":676,"d":0.004},{"s":686,"d":0.00083},{"s":708,"d":0.000091},{"s":713,"d":0.0001},{"s":714,"d":0.000029},{"s":710,"d":0.013},{"s":729,"d":0.01},{"s":735,"d":0.0047},
{"s":757,"d":0.00129},{"s":760,"d":0.00043},{"s":774,"d":0.0098},{"s":784,"d":0.0063},{"s":809,"d":0.00022},{"s":815,"d":0.000091},{"s":823,"d":0.0045},{"s":830,"d":0.000019},{"s":840,"d":0.000012},{"s":852,"d":0.0000055},
{"s":878,"d":0.0022},{"s":884,"d":0.00166},{"s":906,"d":0.0006},{"s":900,"d":0.0078},{"s":916,"d":0.006},{"s":930,"d":0.0000155},{"s":947,"d":0.00029},{"s":950,"d":0.0081},{"s":965,"d":0.003},{"s":969,"d":0.0035},
{"s":982,"d":0.0058},{"s":987,"d":0.00095},{"s":991,"d":0.00107},{"s":996,"d":0.024},{"s":999,"d":0.019},{"s":921,"d":0.0098},{"s":899,"d":0.022}
],
"f": [
{"s":1004,"d":90},{"s":1012,"d":150},{"s":1020,"d":70},{"s":1028,"d":120},{"s":1036,"d":165},{"s":1044,"d":85},{"s":1052,"d":140},{"s":1060,"d":60},{"s":1068,"d":110},{"s":1076,"d":170},
{"s":1084,"d":95},{"s":1092,"d":130},{"s":1100,"d":75},{"s":1108,"d":155},{"s":1116,"d":100},{"s":1124,"d":145},{"s":1132,"d":65},{"s":1140,"d":125},{"s":1148,"d":160},{"s":1156,"d":80},
{"s":1164,"d":115},{"s":1172,"d":170},{"s":1180,"d":90},{"s":1188,"d":135},{"s":1196,"d":55},{"s":1204,"d":150},{"s":1212,"d":105},{"s":1220,"d":165},{"s":1228,"d":72},{"s":1236,"d":128},
{"s":1244,"d":158},{"s":1252,"d":88},{"s":1260,"d":140},{"s":1268,"d":62},{"s":1276,"d":118},{"s":1284,"d":172},{"s":1292,"d":97},{"s":1300,"d":148},{"s":1308,"d":78},{"s":1316,"d":132},
{"s":1324,"d":162},{"s":1332,"d":68},{"s":1340,"d":122},{"s":1348,"d":155},{"s":1356,"d":92},{"s":1364,"d":138},{"s":1372,"d":58},{"s":1380,"d":112},{"s":1388,"d":168},{"s":1396,"d":83},
{"s":1404,"d":145},{"s":1412,"d":102},{"s":1420,"d":160},{"s":1428,"d":74},{"s":1436,"d":126},{"s":1444,"d":152},{"s":1452,"d":66},{"s":1460,"d":135},{"s":1468,"d":170},{"s":1476,"d":95},
{"s":1484,"d":118},{"s":1492,"d":157},{"s":1500,"d":80},{"s":1508,"d":142},{"s":1516,"d":108},{"s":1524,"d":165},{"s":1532,"d":70},{"s":1540,"d":130},{"s":1548,"d":150},{"s":1556,"d":87},
{"s":1564,"d":160},{"s":1572,"d":100},{"s":1580,"d":136},{"s":1588,"d":64},{"s":1596,"d":122},{"s":1604,"d":170},{"s":1612,"d":90},{"s":1620,"d":146},{"s":1628,"d":76},{"s":1636,"d":128},
{"s":1644,"d":155},{"s":1652,"d":96},{"s":1660,"d":163},{"s":1668,"d":72},{"s":1676,"d":116},{"s":1684,"d":140},{"s":1692,"d":84},{"s":1700,"d":158},{"s":1708,"d":104},{"s":1716,"d":132},
{"s":1724,"d":61},{"s":1732,"d":148},{"s":1740,"d":170},{"s":1748,"d":92},{"s":1756,"d":124},{"s":1764,"d":152},{"s":1772,"d":78},{"s":1780,"d":138},{"s":1788,"d":110},{"s":1796,"d":166},
{"s":1804,"d":86},{"s":1812,"d":144},{"s":1820,"d":68},{"s":1828,"d":120},{"s":1836,"d":160},{"s":1844,"d":98},{"s":1852,"d":134},{"s":1860,"d":175},{"s":1868,"d":80},{"s":1876,"d":126},
{"s":1884,"d":150},{"s":1892,"d":94},{"s":1900,"d":162},{"s":1908,"d":74},{"s":1916,"d":140},{"s":1924,"d":112},{"s":1932,"d":168},{"s":1940,"d":88},{"s":1948,"d":130},{"s":1956,"d":156},
{"s":1964,"d":102},{"s":1972,"d":145},{"s":1980,"d":82},{"s":1988,"d":170},{"s":1996,"d":180},
{"s":1001,"d":70},{"s":1009,"d":120},{"s":1017,"d":40},{"s":1025,"d":95},{"s":1033,"d":145},{"s":1041,"d":55},{"s":1049,"d":85},{"s":1057,"d":130},{"s":1065,"d":35},{"s":1073,"d":105},
{"s":1081,"d":62},{"s":1089,"d":140},{"s":1097,"d":48},{"s":1105,"d":90},{"s":1113,"d":115},{"s":1121,"d":30},{"s":1129,"d":78},{"s":1137,"d":150},{"s":1145,"d":58},{"s":1153,"d":100},
{"s":1161,"d":42},{"s":1169,"d":125},{"s":1177,"d":68},{"s":1185,"d":88},{"s":1193,"d":135},{"s":1201,"d":38},{"s":1209,"d":110},{"s":1217,"d":60},{"s":1225,"d":80},{"s":1233,"d":142},
{"s":1241,"d":50},{"s":1249,"d":98},{"s":1257,"d":72},{"s":1265,"d":128},{"s":1273,"d":33},{"s":1281,"d":92},{"s":1289,"d":118},{"s":1297,"d":45},{"s":1305,"d":148},{"s":1313,"d":66},
{"s":1321,"d":84},{"s":1329,"d":108},{"s":1337,"d":28},{"s":1345,"d":76},{"s":1353,"d":138},{"s":1361,"d":54},{"s":1369,"d":102},{"s":1377,"d":64},{"s":1385,"d":122},{"s":1393,"d":40},
{"s":1401,"d":94},{"s":1409,"d":146},{"s":1417,"d":57},{"s":1425,"d":82},{"s":1433,"d":112},{"s":1441,"d":36},{"s":1449,"d":70},{"s":1457,"d":132},{"s":1465,"d":52},{"s":1473,"d":96},
{"s":1481,"d":116},{"s":1489,"d":44},{"s":1497,"d":86},{"s":1505,"d":140},{"s":1513,"d":62},{"s":1521,"d":104},{"s":1529,"d":30},{"s":1537,"d":74},{"s":1545,"d":126},{"s":1553,"d":56},
{"s":1561,"d":90},{"s":1569,"d":148},{"s":1577,"d":46},{"s":1585,"d":80},{"s":1593,"d":110},{"s":1601,"d":66},{"s":1609,"d":136},{"s":1617,"d":38},{"s":1625,"d":100},{"s":1633,"d":60},
{"s":1641,"d":120},{"s":1649,"d":50},{"s":1657,"d":84},{"s":1665,"d":144},{"s":1673,"d":34},{"s":1681,"d":92},{"s":1689,"d":114},{"s":1697,"d":58},{"s":1705,"d":76},{"s":1713,"d":130},
{"s":1721,"d":42},{"s":1729,"d":106},{"s":1737,"d":68},{"s":1745,"d":150},{"s":1753,"d":54},{"s":1761,"d":88},{"s":1769,"d":124},{"s":1777,"d":36},{"s":1785,"d":98},{"s":1793,"d":72},
{"s":1801,"d":140},{"s":1809,"d":48},{"s":1817,"d":82},{"s":1825,"d":112},{"s":1833,"d":62},{"s":1841,"d":134},{"s":1849,"d":40},{"s":1857,"d":94},{"s":1865,"d":118},{"s":1873,"d":56},
{"s":1881,"d":78},{"s":1889,"d":146},{"s":1897,"d":44},{"s":1905,"d":102},{"s":1913,"d":66},{"s":1921,"d":128},{"s":1929,"d":32},{"s":1937,"d":86},{"s":1945,"d":138},{"s":1953,"d":60},
{"s":1961,"d":108},{"s":1969,"d":50},{"s":1977,"d":90},{"s":1985,"d":120},{"s":1993,"d":75},
{"s":1002,"d":130},{"s":1010,"d":75},{"s":1018,"d":155},{"s":1026,"d":100},{"s":1034,"d":62},{"s":1042,"d":145},{"s":1050,"d":88},{"s":1058,"d":120},{"s":1066,"d":160},{"s":1074,"d":70},
{"s":1082,"d":110},{"s":1090,"d":140},{"s":1098,"d":55},{"s":1106,"d":125},{"s":1114,"d":95},{"s":1122,"d":165},{"s":1130,"d":80},{"s":1138,"d":135},{"s":1146,"d":105},{"s":1154,"d":150},
{"s":1162,"d":65},{"s":1170,"d":118},{"s":1178,"d":158},{"s":1186,"d":85},{"s":1194,"d":128},{"s":1202,"d":72},{"s":1210,"d":148},{"s":1218,"d":98},{"s":1226,"d":162},{"s":1234,"d":60},
{"s":1242,"d":115},{"s":1250,"d":138},{"s":1258,"d":78},{"s":1266,"d":152},{"s":1274,"d":92},{"s":1282,"d":122},{"s":1290,"d":58},{"s":1298,"d":142},{"s":1306,"d":108},{"s":1314,"d":165},
{"s":1322,"d":82},{"s":1330,"d":132},{"s":1338,"d":68},{"s":1346,"d":155},{"s":1354,"d":102},{"s":1362,"d":126},{"s":1370,"d":74},{"s":1378,"d":146},{"s":1386,"d":90},{"s":1394,"d":160},
{"s":1402,"d":112},{"s":1410,"d":64},{"s":1418,"d":136},{"s":1426,"d":96},{"s":1434,"d":150},{"s":1442,"d":78},{"s":1450,"d":124},{"s":1458,"d":163},{"s":1466,"d":86},{"s":1474,"d":140},
{"s":1482,"d":57},{"s":1490,"d":118},{"s":1498,"d":154},{"s":1506,"d":100},{"s":1514,"d":130},{"s":1522,"d":70},{"s":1530,"d":145},{"s":1538,"d":92},{"s":1546,"d":160},{"s":1554,"d":76},
{"s":1562,"d":128},{"s":1570,"d":110},{"s":1578,"d":148},{"s":1586,"d":62},{"s":1594,"d":134},{"s":1602,"d":98},{"s":1610,"d":158},{"s":1618,"d":84},{"s":1626,"d":120},{"s":1634,"d":142},
{"s":1642,"d":66},{"s":1650,"d":152},{"s":1658,"d":104},{"s":1666,"d":126},{"s":1674,"d":80},{"s":1682,"d":163},{"s":1690,"d":94},{"s":1698,"d":138},{"s":1706,"d":72},{"s":1714,"d":115},
{"s":1722,"d":156},{"s":1730,"d":88},{"s":1738,"d":132},{"s":1746,"d":60},{"s":1754,"d":147},{"s":1762,"d":106},{"s":1770,"d":125},{"s":1778,"d":78},{"s":1786,"d":160},{"s":1794,"d":96},
{"s":1802,"d":140},{"s":1810,"d":68},{"s":1818,"d":118},{"s":1826,"d":152},{"s":1834,"d":90},{"s":1842,"d":134},{"s":1850,"d":74},{"s":1858,"d":158},{"s":1866,"d":102},{"s":1874,"d":128},
{"s":1882,"d":64},{"s":1890,"d":145},{"s":1898,"d":112},{"s":1906,"d":162},{"s":1914,"d":84},{"s":1922,"d":136},{"s":1930,"d":98},{"s":1938,"d":150},{"s":1946,"d":70},{"s":1954,"d":122},
{"s":1962,"d":155},{"s":1970,"d":92},{"s":1978,"d":138},{"s":1986,"d":108},{"s":1994,"d":165},
{"s":1008,"d":35},{"s":1016,"d":60},{"s":1024,"d":22},{"s":1032,"d":45},{"s":1040,"d":75},{"s":1048,"d":28},{"s":1056,"d":52},{"s":1064,"d":18},{"s":1072,"d":40},{"s":1080,"d":68},
{"s":1088,"d":25},{"s":1096,"d":55},{"s":1104,"d":32},{"s":1112,"d":78},{"s":1120,"d":20},{"s":1128,"d":48},{"s":1136,"d":38},{"s":1144,"d":65},{"s":1152,"d":24},{"s":1160,"d":58},
{"s":1168,"d":30},{"s":1176,"d":72},{"s":1184,"d":19},{"s":1192,"d":42},{"s":1200,"d":62},{"s":1208,"d":27},{"s":1216,"d":50},{"s":1224,"d":36},{"s":1232,"d":80},{"s":1240,"d":23},
{"s":1248,"d":46},{"s":1256,"d":66},{"s":1264,"d":29},{"s":1272,"d":54},{"s":1280,"d":16},{"s":1288,"d":40},{"s":1296,"d":70},{"s":1304,"d":33},{"s":1312,"d":57},{"s":1320,"d":26},
{"s":1328,"d":74},{"s":1336,"d":37},{"s":1344,"d":21},{"s":1352,"d":63},{"s":1360,"d":44},{"s":1368,"d":31},{"s":1376,"d":69},{"s":1384,"d":17},{"s":1392,"d":51},{"s":1400,"d":39},
{"s":1408,"d":61},{"s":1416,"d":24},{"s":1424,"d":47},{"s":1432,"d":77},{"s":1440,"d":28},{"s":1448,"d":56},{"s":1456,"d":34},{"s":1464,"d":20},{"s":1472,"d":67},{"s":1480,"d":42},
{"s":1488,"d":30},{"s":1496,"d":73},{"s":1504,"d":25},{"s":1512,"d":49},{"s":1520,"d":59},{"s":1528,"d":18},{"s":1536,"d":43},{"s":1544,"d":64},{"s":1552,"d":35},{"s":1560,"d":27},
{"s":1568,"d":71},{"s":1576,"d":38},{"s":1584,"d":53},{"s":1592,"d":22},{"s":1600,"d":60},{"s":1608,"d":45},{"s":1616,"d":29},{"s":1624,"d":76},{"s":1632,"d":33},{"s":1640,"d":48},
{"s":1648,"d":19},{"s":1656,"d":62},{"s":1664,"d":40},{"s":1672,"d":26},{"s":1680,"d":68},{"s":1688,"d":52},{"s":1696,"d":31},{"s":1704,"d":57},{"s":1712,"d":23},{"s":1720,"d":44},
{"s":1728,"d":75},{"s":1736,"d":36},{"s":1744,"d":28},{"s":1752,"d":65},{"s":1760,"d":47},{"s":1768,"d":21},{"s":1776,"d":55},{"s":1784,"d":39},{"s":1792,"d":70},{"s":1800,"d":32},
{"s":1808,"d":58},{"s":1816,"d":25},{"s":1824,"d":46},{"s":1832,"d":79},{"s":1840,"d":30},{"s":1848,"d":50},{"s":1856,"d":37},{"s":1864,"d":18},{"s":1872,"d":63},{"s":1880,"d":41},
{"s":1888,"d":27},{"s":1896,"d":72},{"s":1904,"d":34},{"s":1912,"d":54},{"s":1920,"d":24},{"s":1928,"d":66},{"s":1936,"d":43},{"s":1944,"d":29},{"s":1952,"d":60},{"s":1960,"d":48},
{"s":1968,"d":35},{"s":1976,"d":74},{"s":1984,"d":26},{"s":1992,"d":52},{"s":2000,"d":95},
{"s":1010,"d":50},{"s":1018,"d":28},{"s":1026,"d":70},{"s":1034,"d":38},{"s":1042,"d":85},{"s":1050,"d":22},{"s":1058,"d":60},{"s":1066,"d":44},{"s":1074,"d":30},{"s":1082,"d":78},
{"s":1090,"d":35},{"s":1098,"d":55},{"s":1106,"d":20},{"s":1114,"d":66},{"s":1122,"d":42},{"s":1130,"d":88},{"s":1138,"d":26},{"s":1146,"d":58},{"s":1154,"d":36},{"s":1162,"d":74},
{"s":1170,"d":24},{"s":1178,"d":48},{"s":1186,"d":82},{"s":1194,"d":32},{"s":1202,"d":62},{"s":1210,"d":40},{"s":1218,"d":19},{"s":1226,"d":68},{"s":1234,"d":46},{"s":1242,"d":27},
{"s":1250,"d":80},{"s":1258,"d":34},{"s":1266,"d":56},{"s":1274,"d":23},{"s":1282,"d":72},{"s":1290,"d":44},{"s":1298,"d":30},{"s":1306,"d":64},{"s":1314,"d":50},{"s":1322,"d":21},
{"s":1330,"d":86},{"s":1338,"d":38},{"s":1346,"d":59},{"s":1354,"d":28},{"s":1362,"d":76},{"s":1370,"d":42},{"s":1378,"d":33},{"s":1386,"d":67},{"s":1394,"d":25},{"s":1402,"d":54},
{"s":1410,"d":90},{"s":1418,"d":36},{"s":1426,"d":47},{"s":1434,"d":20},{"s":1442,"d":70},{"s":1450,"d":31},{"s":1458,"d":61},{"s":1466,"d":40},{"s":1474,"d":84},{"s":1482,"d":26},
{"s":1490,"d":52},{"s":1498,"d":35},{"s":1506,"d":73},{"s":1514,"d":22},{"s":1522,"d":57},{"s":1530,"d":45},{"s":1538,"d":29},{"s":1546,"d":79},{"s":1554,"d":38},{"s":1562,"d":63},
{"s":1570,"d":24},{"s":1578,"d":48},{"s":1586,"d":87},{"s":1594,"d":33},{"s":1602,"d":55},{"s":1610,"d":41},{"s":1618,"d":19},{"s":1626,"d":69},{"s":1634,"d":30},{"s":1642,"d":60},
{"s":1650,"d":43},{"s":1658,"d":75},{"s":1666,"d":27},{"s":1674,"d":51},{"s":1682,"d":37},{"s":1690,"d":83},{"s":1698,"d":23},{"s":1706,"d":58},{"s":1714,"d":34},{"s":1722,"d":66},
{"s":1730,"d":46},{"s":1738,"d":21},{"s":1746,"d":72},{"s":1754,"d":39},{"s":1762,"d":54},{"s":1770,"d":28},{"s":1778,"d":81},{"s":1786,"d":44},{"s":1794,"d":32},{"s":1802,"d":62},
{"s":1810,"d":25},{"s":1818,"d":77},{"s":1826,"d":49},{"s":1834,"d":36},{"s":1842,"d":68},{"s":1850,"d":22},{"s":1858,"d":56},{"s":1866,"d":41},{"s":1874,"d":85},{"s":1882,"d":30},
{"s":1890,"d":53},{"s":1898,"d":26},{"s":1906,"d":71},{"s":1914,"d":37},{"s":1922,"d":60},{"s":1930,"d":45},{"s":1938,"d":20},{"s":1946,"d":78},{"s":1954,"d":34},{"s":1962,"d":64},
{"s":1970,"d":29},{"s":1978,"d":88},{"s":1986,"d":42},{"s":1994,"d":57},
{"s":1006,"d":60},{"s":1014,"d":95},{"s":1022,"d":40},{"s":1030,"d":110},{"s":1038,"d":75},{"s":1046,"d":50},{"s":1054,"d":125},{"s":1062,"d":35},{"s":1070,"d":88},{"s":1078,"d":65},
{"s":1086,"d":105},{"s":1094,"d":45},{"s":1102,"d":80},{"s":1110,"d":120},{"s":1118,"d":55},{"s":1126,"d":30},{"s":1134,"d":100},{"s":1142,"d":70},{"s":1150,"d":115},{"s":1158,"d":48},
{"s":1166,"d":85},{"s":1174,"d":38},{"s":1182,"d":128},{"s":1190,"d":62},{"s":1198,"d":92},{"s":1206,"d":42},{"s":1214,"d":108},{"s":1222,"d":78},{"s":1230,"d":52},{"s":1238,"d":118},
{"s":1246,"d":33},{"s":1254,"d":90},{"s":1262,"d":68},{"s":1270,"d":112},{"s":1278,"d":46},{"s":1286,"d":98},{"s":1294,"d":58},{"s":1302,"d":124},{"s":1310,"d":74},{"s":1318,"d":36},
{"s":1326,"d":102},{"s":1334,"d":64},{"s":1342,"d":86},{"s":1350,"d":50},{"s":1358,"d":122},{"s":1366,"d":40},{"s":1374,"d":94},{"s":1382,"d":72},{"s":1390,"d":56},{"s":1398,"d":116},
{"s":1406,"d":82},{"s":1414,"d":31},{"s":1422,"d":106},{"s":1430,"d":66},{"s":1438,"d":96},{"s":1446,"d":44},{"s":1454,"d":126},{"s":1462,"d":60},{"s":1470,"d":84},{"s":1478,"d":38},
{"s":1486,"d":110},{"s":1494,"d":54},{"s":1502,"d":90},{"s":1510,"d":70},{"s":1518,"d":120},{"s":1526,"d":47},{"s":1534,"d":100},{"s":1542,"d":34},{"s":1550,"d":79},{"s":1558,"d":114},
{"s":1566,"d":58},{"s":1574,"d":92},{"s":1582,"d":42},{"s":1590,"d":104},{"s":1598,"d":67},{"s":1606,"d":128},{"s":1614,"d":51},{"s":1622,"d":87},{"s":1630,"d":37},{"s":1638,"d":108},
{"s":1646,"d":75},{"s":1654,"d":99},{"s":1662,"d":45},{"s":1670,"d":118},{"s":1678,"d":62},{"s":1686,"d":83},{"s":1694,"d":32},{"s":1702,"d":111},{"s":1710,"d":69},{"s":1718,"d":94},
{"s":1726,"d":53},{"s":1734,"d":123},{"s":1742,"d":41},{"s":1750,"d":97},{"s":1758,"d":73},{"s":1766,"d":57},{"s":1774,"d":115},{"s":1782,"d":36},{"s":1790,"d":89},{"s":1798,"d":65},
{"s":1806,"d":107},{"s":1814,"d":48},{"s":1822,"d":81},{"s":1830,"d":125},{"s":1838,"d":59},{"s":1846,"d":39},{"s":1854,"d":102},{"s":1862,"d":71},{"s":1870,"d":93},{"s":1878,"d":50},
{"s":1886,"d":119},{"s":1894,"d":63},{"s":1902,"d":85},{"s":1910,"d":43},{"s":1918,"d":113},{"s":1926,"d":77},{"s":1934,"d":56},{"s":1942,"d":101},{"s":1950,"d":35},{"s":1958,"d":90},
{"s":1966,"d":68},{"s":1974,"d":121},{"s":1982,"d":46},{"s":1990,"d":96},{"s":1998,"d":74},
{"s":1006,"d":8},{"s":1015,"d":14},{"s":1024,"d":4.5},{"s":1033,"d":11},{"s":1042,"d":18},{"s":1051,"d":6},{"s":1060,"d":9.5},{"s":1069,"d":3.5},{"s":1078,"d":15},{"s":1087,"d":7},
{"s":1096,"d":12},{"s":1105,"d":5},{"s":1114,"d":19},{"s":1123,"d":8.5},{"s":1132,"d":4},{"s":1141,"d":13},{"s":1150,"d":10},{"s":1159,"d":6.5},{"s":1168,"d":17},{"s":1177,"d":3.2},
{"s":1186,"d":9},{"s":1195,"d":14.5},{"s":1204,"d":5.5},{"s":1213,"d":11.5},{"s":1222,"d":7.5},{"s":1231,"d":20},{"s":1240,"d":4.2},{"s":1249,"d":12.5},{"s":1258,"d":6},{"s":1267,"d":16},
{"s":1276,"d":8},{"s":1285,"d":3.8},{"s":1294,"d":10.5},{"s":1303,"d":13.5},{"s":1312,"d":5},{"s":1321,"d":18.5},{"s":1330,"d":7},{"s":1339,"d":9.8},{"s":1348,"d":4.6},{"s":1357,"d":15.5},
{"s":1366,"d":11},{"s":1375,"d":6.2},{"s":1384,"d":3.4},{"s":1393,"d":14},{"s":1402,"d":8.8},{"s":1411,"d":19.5},{"s":1420,"d":5.2},{"s":1429,"d":12},{"s":1438,"d":7.2},{"s":1447,"d":10},
{"s":1456,"d":4},{"s":1465,"d":16.5},{"s":1474,"d":9.2},{"s":1483,"d":6.8},{"s":1492,"d":13},{"s":1501,"d":3.6},{"s":1510,"d":11.2},{"s":1519,"d":17.5},{"s":1528,"d":5.8},{"s":1537,"d":8.2},
{"s":1546,"d":14.8},{"s":1555,"d":4.8},{"s":1564,"d":10.2},{"s":1573,"d":7.8},{"s":1582,"d":19},{"s":1591,"d":6.4},{"s":1600,"d":12.8},{"s":1609,"d":3},{"s":1618,"d":9.4},{"s":1627,"d":15.8},
{"s":1636,"d":5.4},{"s":1645,"d":11.8},{"s":1654,"d":8.4},{"s":1663,"d":4.4},{"s":1672,"d":17},{"s":1681,"d":7.4},{"s":1690,"d":13.2},{"s":1699,"d":6.6},{"s":1708,"d":10.8},{"s":1717,"d":3.9},
{"s":1726,"d":16.2},{"s":1735,"d":9},{"s":1744,"d":5.6},{"s":1753,"d":12.2},{"s":1762,"d":7.6},{"s":1771,"d":18},{"s":1780,"d":4.3},{"s":1789,"d":14.2},{"s":1798,"d":8.6},{"s":1807,"d":6},
{"s":1816,"d":11.4},{"s":1825,"d":3.3},{"s":1834,"d":15.2},{"s":1843,"d":9.6},{"s":1852,"d":5},{"s":1861,"d":13.8},{"s":1870,"d":7},{"s":1879,"d":19.8},{"s":1888,"d":10.4},{"s":1897,"d":4.7},
{"s":1906,"d":12.6},{"s":1915,"d":8},{"s":1924,"d":6.3},{"s":1933,"d":16.8},{"s":1942,"d":3.7},{"s":1951,"d":11},{"s":1960,"d":9.2},{"s":1969,"d":5.3},{"s":1978,"d":14.6},{"s":1987,"d":7.9},
{"s":1996,"d":18.2},
{"s":1011,"d":5},{"s":1020,"d":12},{"s":1029,"d":3},{"s":1038,"d":18},{"s":1047,"d":7},{"s":1056,"d":25},{"s":1065,"d":9},{"s":1074,"d":4},{"s":1083,"d":14},{"s":1092,"d":6},
{"s":1101,"d":21},{"s":1110,"d":10},{"s":1119,"d":3.5},{"s":1128,"d":16},{"s":1137,"d":8},{"s":1146,"d":2.8},{"s":1155,"d":13},{"s":1164,"d":23},{"s":1173,"d":5.5},{"s":1182,"d":11},
{"s":1191,"d":4.2},{"s":1200,"d":19},{"s":1209,"d":7.5},{"s":1218,"d":15},{"s":1227,"d":3.2},{"s":1236,"d":9.5},{"s":1245,"d":24},{"s":1254,"d":6.2},{"s":1263,"d":12.5},{"s":1272,"d":4.8},
{"s":1281,"d":17},{"s":1290,"d":8.5},{"s":1299,"d":2.6},{"s":1308,"d":14.5},{"s":1317,"d":6.8},{"s":1326,"d":22},{"s":1335,"d":10.5},{"s":1344,"d":3.8},{"s":1353,"d":13.5},{"s":1362,"d":5.2},
{"s":1371,"d":20},{"s":1380,"d":7.2},{"s":1389,"d":11.5},{"s":1398,"d":4.5},{"s":1407,"d":16.5},{"s":1416,"d":9},{"s":1425,"d":3},{"s":1434,"d":18.5},{"s":1443,"d":6},{"s":1452,"d":12},
{"s":1461,"d":23.5},{"s":1470,"d":5},{"s":1479,"d":10},{"s":1488,"d":3.4},{"s":1497,"d":15.5},{"s":1506,"d":8},{"s":1515,"d":21.5},{"s":1524,"d":4},{"s":1533,"d":13},{"s":1542,"d":7},
{"s":1551,"d":2.7},{"s":1560,"d":17.5},{"s":1569,"d":9.8},{"s":1578,"d":5.8},{"s":1587,"d":24.5},{"s":1596,"d":11},{"s":1605,"d":3.6},{"s":1614,"d":14},{"s":1623,"d":6.5},{"s":1632,"d":19.5},
{"s":1641,"d":8.8},{"s":1650,"d":4.4},{"s":1659,"d":12.8},{"s":1668,"d":22.5},{"s":1677,"d":5.4},{"s":1686,"d":10.8},{"s":1695,"d":3.1},{"s":1704,"d":16},{"s":1713,"d":7.8},{"s":1722,"d":13.8},
{"s":1731,"d":4.9},{"s":1740,"d":20.5},{"s":1749,"d":9.2},{"s":1758,"d":6.1},{"s":1767,"d":15},{"s":1776,"d":2.9},{"s":1785,"d":11.8},{"s":1794,"d":25},{"s":1803,"d":7.4},{"s":1812,"d":13.2},
{"s":1821,"d":4.1},{"s":1830,"d":18},{"s":1839,"d":8.2},{"s":1848,"d":5.6},{"s":1857,"d":23},{"s":1866,"d":10.2},{"s":1875,"d":3.3},{"s":1884,"d":14.8},{"s":1893,"d":6.6},{"s":1902,"d":12.2},
{"s":1911,"d":21},{"s":1920,"d":4.6},{"s":1929,"d":9.6},{"s":1938,"d":17},{"s":1947,"d":3.7},{"s":1956,"d":11.2},{"s":1965,"d":7.1},{"s":1974,"d":15.8},{"s":1983,"d":5.1},{"s":1992,"d":19},
{"s":1010,"d":1.2},{"s":1024,"d":0.5},{"s":1038,"d":2.4},{"s":1052,"d":0.8},{"s":1066,"d":1.8},{"s":1080,"d":0.35},{"s":1094,"d":2.9},{"s":1108,"d":1.0},{"s":1122,"d":0.6},{"s":1136,"d":2.0},
{"s":1150,"d":1.4},{"s":1164,"d":0.42},{"s":1178,"d":2.6},{"s":1192,"d":0.9},{"s":1206,"d":1.6},{"s":1220,"d":0.3},{"s":1234,"d":2.2},{"s":1248,"d":0.7},{"s":1262,"d":1.1},{"s":1276,"d":2.8},
{"s":1290,"d":0.55},{"s":1304,"d":1.9},{"s":1318,"d":0.38},{"s":1332,"d":1.3},{"s":1346,"d":2.5},{"s":1360,"d":0.85},{"s":1374,"d":1.7},{"s":1388,"d":0.45},{"s":1402,"d":2.3},{"s":1416,"d":1.05},
{"s":1430,"d":0.65},{"s":1444,"d":2.7},{"s":1458,"d":0.33},{"s":1472,"d":1.5},{"s":1486,"d":0.95},{"s":1500,"d":2.1},{"s":1514,"d":0.5},{"s":1528,"d":1.25},{"s":1542,"d":0.75},{"s":1556,"d":2.45},
{"s":1570,"d":0.4},{"s":1584,"d":1.85},{"s":1598,"d":1.0},{"s":1612,"d":2.9},{"s":1626,"d":0.6},{"s":1640,"d":1.35},{"s":1654,"d":0.32},{"s":1668,"d":2.0},{"s":1682,"d":0.8},{"s":1696,"d":1.55},
{"s":1710,"d":2.6},{"s":1724,"d":0.48},{"s":1738,"d":1.15},{"s":1752,"d":0.7},{"s":1766,"d":2.25},{"s":1780,"d":0.36},{"s":1794,"d":1.7},{"s":1808,"d":0.9},{"s":1822,"d":2.75},{"s":1836,"d":0.52},
{"s":1850,"d":1.45},{"s":1864,"d":0.62},{"s":1878,"d":2.15},{"s":1892,"d":0.34},{"s":1906,"d":1.95},{"s":1920,"d":1.1},{"s":1934,"d":0.44},{"s":1948,"d":2.5},{"s":1962,"d":0.78},{"s":1976,"d":1.3},
{"s":1990,"d":0.58},
{"s":1017,"d":0.7},{"s":1031,"d":2.2},{"s":1045,"d":0.4},{"s":1059,"d":1.5},{"s":1073,"d":2.8},{"s":1087,"d":0.9},{"s":1101,"d":0.3},{"s":1115,"d":1.8},{"s":1129,"d":1.1},{"s":1143,"d":2.5},
{"s":1157,"d":0.55},{"s":1171,"d":1.3},{"s":1185,"d":0.35},{"s":1199,"d":2.0},{"s":1213,"d":0.8},{"s":1227,"d":2.9},{"s":1241,"d":1.6},{"s":1255,"d":0.45},{"s":1269,"d":1.0},{"s":1283,"d":2.4},
{"s":1297,"d":0.6},{"s":1311,"d":1.9},{"s":1325,"d":0.28},{"s":1339,"d":1.2},{"s":1353,"d":2.7},{"s":1367,"d":0.75},{"s":1381,"d":1.45},{"s":1395,"d":0.4},{"s":1409,"d":2.1},{"s":1423,"d":0.95},
{"s":1437,"d":1.7},{"s":1451,"d":0.5},{"s":1465,"d":2.6},{"s":1479,"d":1.05},{"s":1493,"d":0.32},{"s":1507,"d":1.55},{"s":1521,"d":2.3},{"s":1535,"d":0.65},{"s":1549,"d":1.25},{"s":1563,"d":0.85},
{"s":1577,"d":2.85},{"s":1591,"d":0.42},{"s":1605,"d":1.75},{"s":1619,"d":1.0},{"s":1633,"d":2.05},{"s":1647,"d":0.58},{"s":1661,"d":1.35},{"s":1675,"d":0.3},{"s":1689,"d":2.45},{"s":1703,"d":0.9},
{"s":1717,"d":1.6},{"s":1731,"d":0.48},{"s":1745,"d":2.2},{"s":1759,"d":1.15},{"s":1773,"d":0.7},{"s":1787,"d":2.65},{"s":1801,"d":0.38},{"s":1815,"d":1.4},{"s":1829,"d":0.82},{"s":1843,"d":1.95},
{"s":1857,"d":0.52},{"s":1871,"d":2.75},{"s":1885,"d":1.08},{"s":1899,"d":0.34},{"s":1913,"d":1.65},{"s":1927,"d":0.62},{"s":1941,"d":2.35},{"s":1955,"d":0.88},{"s":1969,"d":1.28},{"s":1983,"d":0.46},
{"s":1065,"d":0.00015},{"s":1094,"d":0.0013},{"s":1131,"d":0.00066},{"s":1194,"d":0.001},{"s":1205,"d":0.00065},{"s":1333,"d":0.0023},{"s":1434,"d":0.0021},{"s":1516,"d":0.0021},{"s":1589,"d":0.0018},{"s":1798,"d":0.0023},
{"s":1848,"d":0.000069},{"s":1880,"d":0.00046},{"s":1887,"d":0.005},{"s":1609,"d":0.006},{"s":1409,"d":0.0049},{"s":1367,"d":0.0066},{"s":1320,"d":0.0069},{"s":1273,"d":0.0079},{"s":1264,"d":0.017},{"s":1198,"d":0.0081},
{"s":1218,"d":0.0126},{"s":1111,"d":0.029},{"s":1150,"d":0.027},{"s":1128,"d":0.0115},{"s":1648,"d":0.016},{"s":1677,"d":0.019},{"s":1918,"d":0.016},{"s":1943,"d":0.033},{"s":1953,"d":0.029},{"s":1991,"d":0.016},
{"s":1965,"d":0.076},{"s":1991,"d":0.166},{"s":1911,"d":0.1},{"s":1925,"d":0.158},{"s":1826,"d":0.1},{"s":1735,"d":0.041},{"s":1748,"d":0.054},{"s":1779,"d":0.083},{"s":1592,"d":0.074},{"s":1547,"d":0.095},
{"s":1629,"d":0.19},{"s":1540,"d":0.19},{"s":1519,"d":0.32},{"s":1372,"d":0.12},{"s":1387,"d":0.105},{"s":1324,"d":0.095},{"s":1315,"d":0.12},{"s":1274,"d":0.21},{"s":1157,"d":0.085},{"s":1120,"d":0.105},
{"s":1078,"d":0.068},{"s":1018,"d":0.033},{"s":1023,"d":0.078},{"s":1032,"d":0.088},{"s":1038,"d":0.38},{"s":1010,"d":0.36},{"s":1013,"d":0.22},{"s":1119,"d":0.2},{"s":1720,"d":0.11},
{"s":1180,"d":0.15},{"s":1250,"d":0.045},{"s":1460,"d":0.25},{"s":1690,"d":0.13},{"s":1860,"d":0.06},{"s":1570,"d":0.28},{"s":1400,"d":0.05}
],
"m": [{"v": 3.7}]
},
"layer": [
{
  "data": {"name": "h"},
  "mark": {"type": "point", "filled": true, "size": 961, "opacity": 1, "strokeWidth": {"expr": "datum.value == 'max Healthy' ? 9 : 0"}},
  "encoding": {
    "x": {"field": "s", "type": "quantitative", "scale": {"domain": [0, 2000], "nice": false, "zero": false},
      "axis": {"orient": "bottom", "values": [400, 800, 1200, 1600], "labels": false, "domain": false, "ticks": true, "tickSize": -20, "tickColor": "#262626", "tickWidth": 2, "grid": true, "gridColor": "#e2e2e2", "gridWidth": 1.5,
        "title": "sample (adim)", "titleFontSize": 59, "titleFontWeight": "normal", "titleColor": "black", "titleX": 1006, "titleY": 103, "titleBaseline": "alphabetic", "titleAlign": "center"}},
    "y": {"field": "d", "type": "quantitative", "scale": {"type": "log", "domain": [1e-8, 10000], "nice": false},
      "axis": {"orient": "left",
        "values": [1e-8,2e-8,3e-8,4e-8,5e-8,6e-8,7e-8,8e-8,9e-8,1e-7,2e-7,3e-7,4e-7,5e-7,6e-7,7e-7,8e-7,9e-7,1e-6,2e-6,3e-6,4e-6,5e-6,6e-6,7e-6,8e-6,9e-6,1e-5,2e-5,3e-5,4e-5,5e-5,6e-5,7e-5,8e-5,9e-5,1e-4,2e-4,3e-4,4e-4,5e-4,6e-4,7e-4,8e-4,9e-4,0.001,0.002,0.003,0.004,0.005,0.006,0.007,0.008,0.009,0.01,0.02,0.03,0.04,0.05,0.06,0.07,0.08,0.09,0.1,0.2,0.3,0.4,0.5,0.6,0.7,0.8,0.9,1,2,3,4,5,6,7,8,9,10,20,30,40,50,60,70,80,90,100,200,300,400,500,600,700,800,900,1000,2000,3000,4000,5000,6000,7000,8000,9000,10000],
        "domain": false, "ticks": true,
        "tickSize": {"condition": {"test": "abs(log(datum.value)/LN10-round(log(datum.value)/LN10))<0.001&&round(log(datum.value)/LN10)%2==0", "value": -20}, "value": -9},
        "tickColor": "#262626", "tickWidth": 2,
        "grid": true,
        "gridColor": {"condition": {"test": "abs(log(datum.value)/LN10-round(log(datum.value)/LN10))<0.001&&round(log(datum.value)/LN10)%2==0", "value": "#dcdcdc"}, "value": "#bdbdbd"},
        "gridDash": {"condition": {"test": "abs(log(datum.value)/LN10-round(log(datum.value)/LN10))<0.001&&round(log(datum.value)/LN10)%2==0", "value": []}, "value": [2, 3]},
        "gridWidth": 1.5,
        "labelExpr": "abs(log(datum.value)/LN10-round(log(datum.value)/LN10))<0.001&&round(log(datum.value)/LN10)%2==0 ? '10' : ''",
        "labelFontSize": 60, "labelColor": "#3a3a3a", "labelBaseline": "alphabetic", "labelAlign": "right", "labelOffset": 34,
        "labelPadding": {"condition": {"test": "datum.value < 1", "value": 95}, "value": 78},
        "labelOverlap": false, "labelFlush": false, "labelBound": false,
        "title": "Mahalanobis distance (adim)", "titleFontSize": 59, "titleFontWeight": "normal", "titleColor": "black", "titleAngle": -90, "titleX": -183, "titleY": 669, "titleBaseline": "alphabetic", "titleAlign": "center"}},
    "color": {"datum": "Healthy", "type": "nominal", "scale": {"domain": ["Healthy", "Faulty", "max Healthy"], "range": ["#141414", "#989898", "#000000"]},
      "legend": {"title": null, "orient": "none", "legendX": 1456, "legendY": 1322, "padding": 12, "strokeColor": "#262626", "fillColor": "white", "symbolOffset": 49, "labelOffset": 54, "labelFontSize": 58.5, "labelFont": "Liberation Sans", "labelColor": "black", "labelBaseline": "middle", "clipHeight": 62, "rowPadding": 9, "labelLimit": 0, "symbolOpacity": 1, "symbolStrokeColor": "black",
        "symbolSize": {"expr": "datum.value == 'max Healthy' ? 19044 : (datum.value == 'Healthy' ? 961 : 400)"},
        "symbolStrokeWidth": {"expr": "datum.value == 'max Healthy' ? 9 : 0"},
        "encoding": {"symbols": {"stroke": {"value": "black"}}}}},
    "shape": {"datum": "Healthy", "type": "nominal", "scale": {"domain": ["Healthy", "Faulty", "max Healthy"], "range": ["M0,-1L0.74,0L0,1L-0.74,0Z", "square", "stroke"]},
      "legend": {"title": null, "orient": "none", "legendX": 1456, "legendY": 1322, "padding": 12, "strokeColor": "#262626", "fillColor": "white", "symbolOffset": 49, "labelOffset": 54, "labelFontSize": 58.5, "labelFont": "Liberation Sans", "labelColor": "black", "labelBaseline": "middle", "clipHeight": 62, "rowPadding": 9, "labelLimit": 0, "symbolOpacity": 1, "symbolStrokeColor": "black",
        "symbolSize": {"expr": "datum.value == 'max Healthy' ? 19044 : (datum.value == 'Healthy' ? 961 : 400)"},
        "symbolStrokeWidth": {"expr": "datum.value == 'max Healthy' ? 9 : 0"},
        "encoding": {"symbols": {"stroke": {"value": "black"}}}}}
  }
},
{
  "data": {"name": "f"},
  "mark": {"type": "point", "filled": true, "size": 400, "opacity": 1, "strokeWidth": {"expr": "datum.value == 'max Healthy' ? 9 : 0"}},
  "encoding": {
    "x": {"field": "s", "type": "quantitative", "scale": {"domain": [0, 2000], "nice": false, "zero": false},
      "axis": {"orient": "top", "values": [400, 800, 1200, 1600], "labels": false, "domain": false, "ticks": true, "tickSize": -20, "tickColor": "#262626", "tickWidth": 2, "grid": false,
        "title": "Mahalanobis Distance", "titleFontSize": 71, "titleFontWeight": "bold", "titleColor": "black", "titleX": 1006, "titleY": -21, "titleBaseline": "alphabetic", "titleAlign": "center", "titleAngle": 0}},
    "y": {"field": "d", "type": "quantitative", "scale": {"type": "log", "domain": [1e-8, 10000], "nice": false},
      "axis": {"orient": "left", "values": [1e-8, 1e-6, 1e-4, 0.01, 1, 100, 10000], "domain": false, "ticks": false, "grid": false,
        "labelExpr": "'' + round(log(datum.value)/LN10)", "labelFontSize": 50, "labelColor": "#3a3a3a", "labelBaseline": "alphabetic", "labelAlign": "right", "labelOffset": 2, "labelPadding": 25,
        "labelOverlap": false, "labelFlush": false, "labelBound": false, "title": null}},
    "color": {"datum": "Faulty", "type": "nominal", "scale": {"domain": ["Healthy", "Faulty", "max Healthy"], "range": ["#141414", "#989898", "#000000"]},
      "legend": {"title": null, "orient": "none", "legendX": 1456, "legendY": 1322, "padding": 12, "strokeColor": "#262626", "fillColor": "white", "symbolOffset": 49, "labelOffset": 54, "labelFontSize": 58.5, "labelFont": "Liberation Sans", "labelColor": "black", "labelBaseline": "middle", "clipHeight": 62, "rowPadding": 9, "labelLimit": 0, "symbolOpacity": 1, "symbolStrokeColor": "black",
        "symbolSize": {"expr": "datum.value == 'max Healthy' ? 19044 : (datum.value == 'Healthy' ? 961 : 400)"},
        "symbolStrokeWidth": {"expr": "datum.value == 'max Healthy' ? 9 : 0"},
        "encoding": {"symbols": {"stroke": {"value": "black"}}}}},
    "shape": {"datum": "Faulty", "type": "nominal", "scale": {"domain": ["Healthy", "Faulty", "max Healthy"], "range": ["M0,-1L0.74,0L0,1L-0.74,0Z", "square", "stroke"]},
      "legend": {"title": null, "orient": "none", "legendX": 1456, "legendY": 1322, "padding": 12, "strokeColor": "#262626", "fillColor": "white", "symbolOffset": 49, "labelOffset": 54, "labelFontSize": 58.5, "labelFont": "Liberation Sans", "labelColor": "black", "labelBaseline": "middle", "clipHeight": 62, "rowPadding": 9, "labelLimit": 0, "symbolOpacity": 1, "symbolStrokeColor": "black",
        "symbolSize": {"expr": "datum.value == 'max Healthy' ? 19044 : (datum.value == 'Healthy' ? 961 : 400)"},
        "symbolStrokeWidth": {"expr": "datum.value == 'max Healthy' ? 9 : 0"},
        "encoding": {"symbols": {"stroke": {"value": "black"}}}}}
  }
},
{
  "data": {"name": "m"},
  "mark": {"type": "rule", "color": "black", "strokeWidth": 9},
  "encoding": {
    "y": {"field": "v", "type": "quantitative", "scale": {"type": "log", "domain": [1e-8, 10000], "nice": false},
      "axis": {"orient": "right",
        "values": [1e-8,2e-8,3e-8,4e-8,5e-8,6e-8,7e-8,8e-8,9e-8,1e-7,2e-7,3e-7,4e-7,5e-7,6e-7,7e-7,8e-7,9e-7,1e-6,2e-6,3e-6,4e-6,5e-6,6e-6,7e-6,8e-6,9e-6,1e-5,2e-5,3e-5,4e-5,5e-5,6e-5,7e-5,8e-5,9e-5,1e-4,2e-4,3e-4,4e-4,5e-4,6e-4,7e-4,8e-4,9e-4,0.001,0.002,0.003,0.004,0.005,0.006,0.007,0.008,0.009,0.01,0.02,0.03,0.04,0.05,0.06,0.07,0.08,0.09,0.1,0.2,0.3,0.4,0.5,0.6,0.7,0.8,0.9,1,2,3,4,5,6,7,8,9,10,20,30,40,50,60,70,80,90,100,200,300,400,500,600,700,800,900,1000,2000,3000,4000,5000,6000,7000,8000,9000,10000],
        "domain": false, "labels": false, "grid": false, "ticks": true,
        "tickSize": {"condition": {"test": "abs(log(datum.value)/LN10-round(log(datum.value)/LN10))<0.001&&round(log(datum.value)/LN10)%2==0", "value": -20}, "value": -9},
        "tickColor": "#262626", "tickWidth": 2, "title": null}}
  }
}
],
"resolve": {"axis": {"x": "independent", "y": "independent"}}
}
